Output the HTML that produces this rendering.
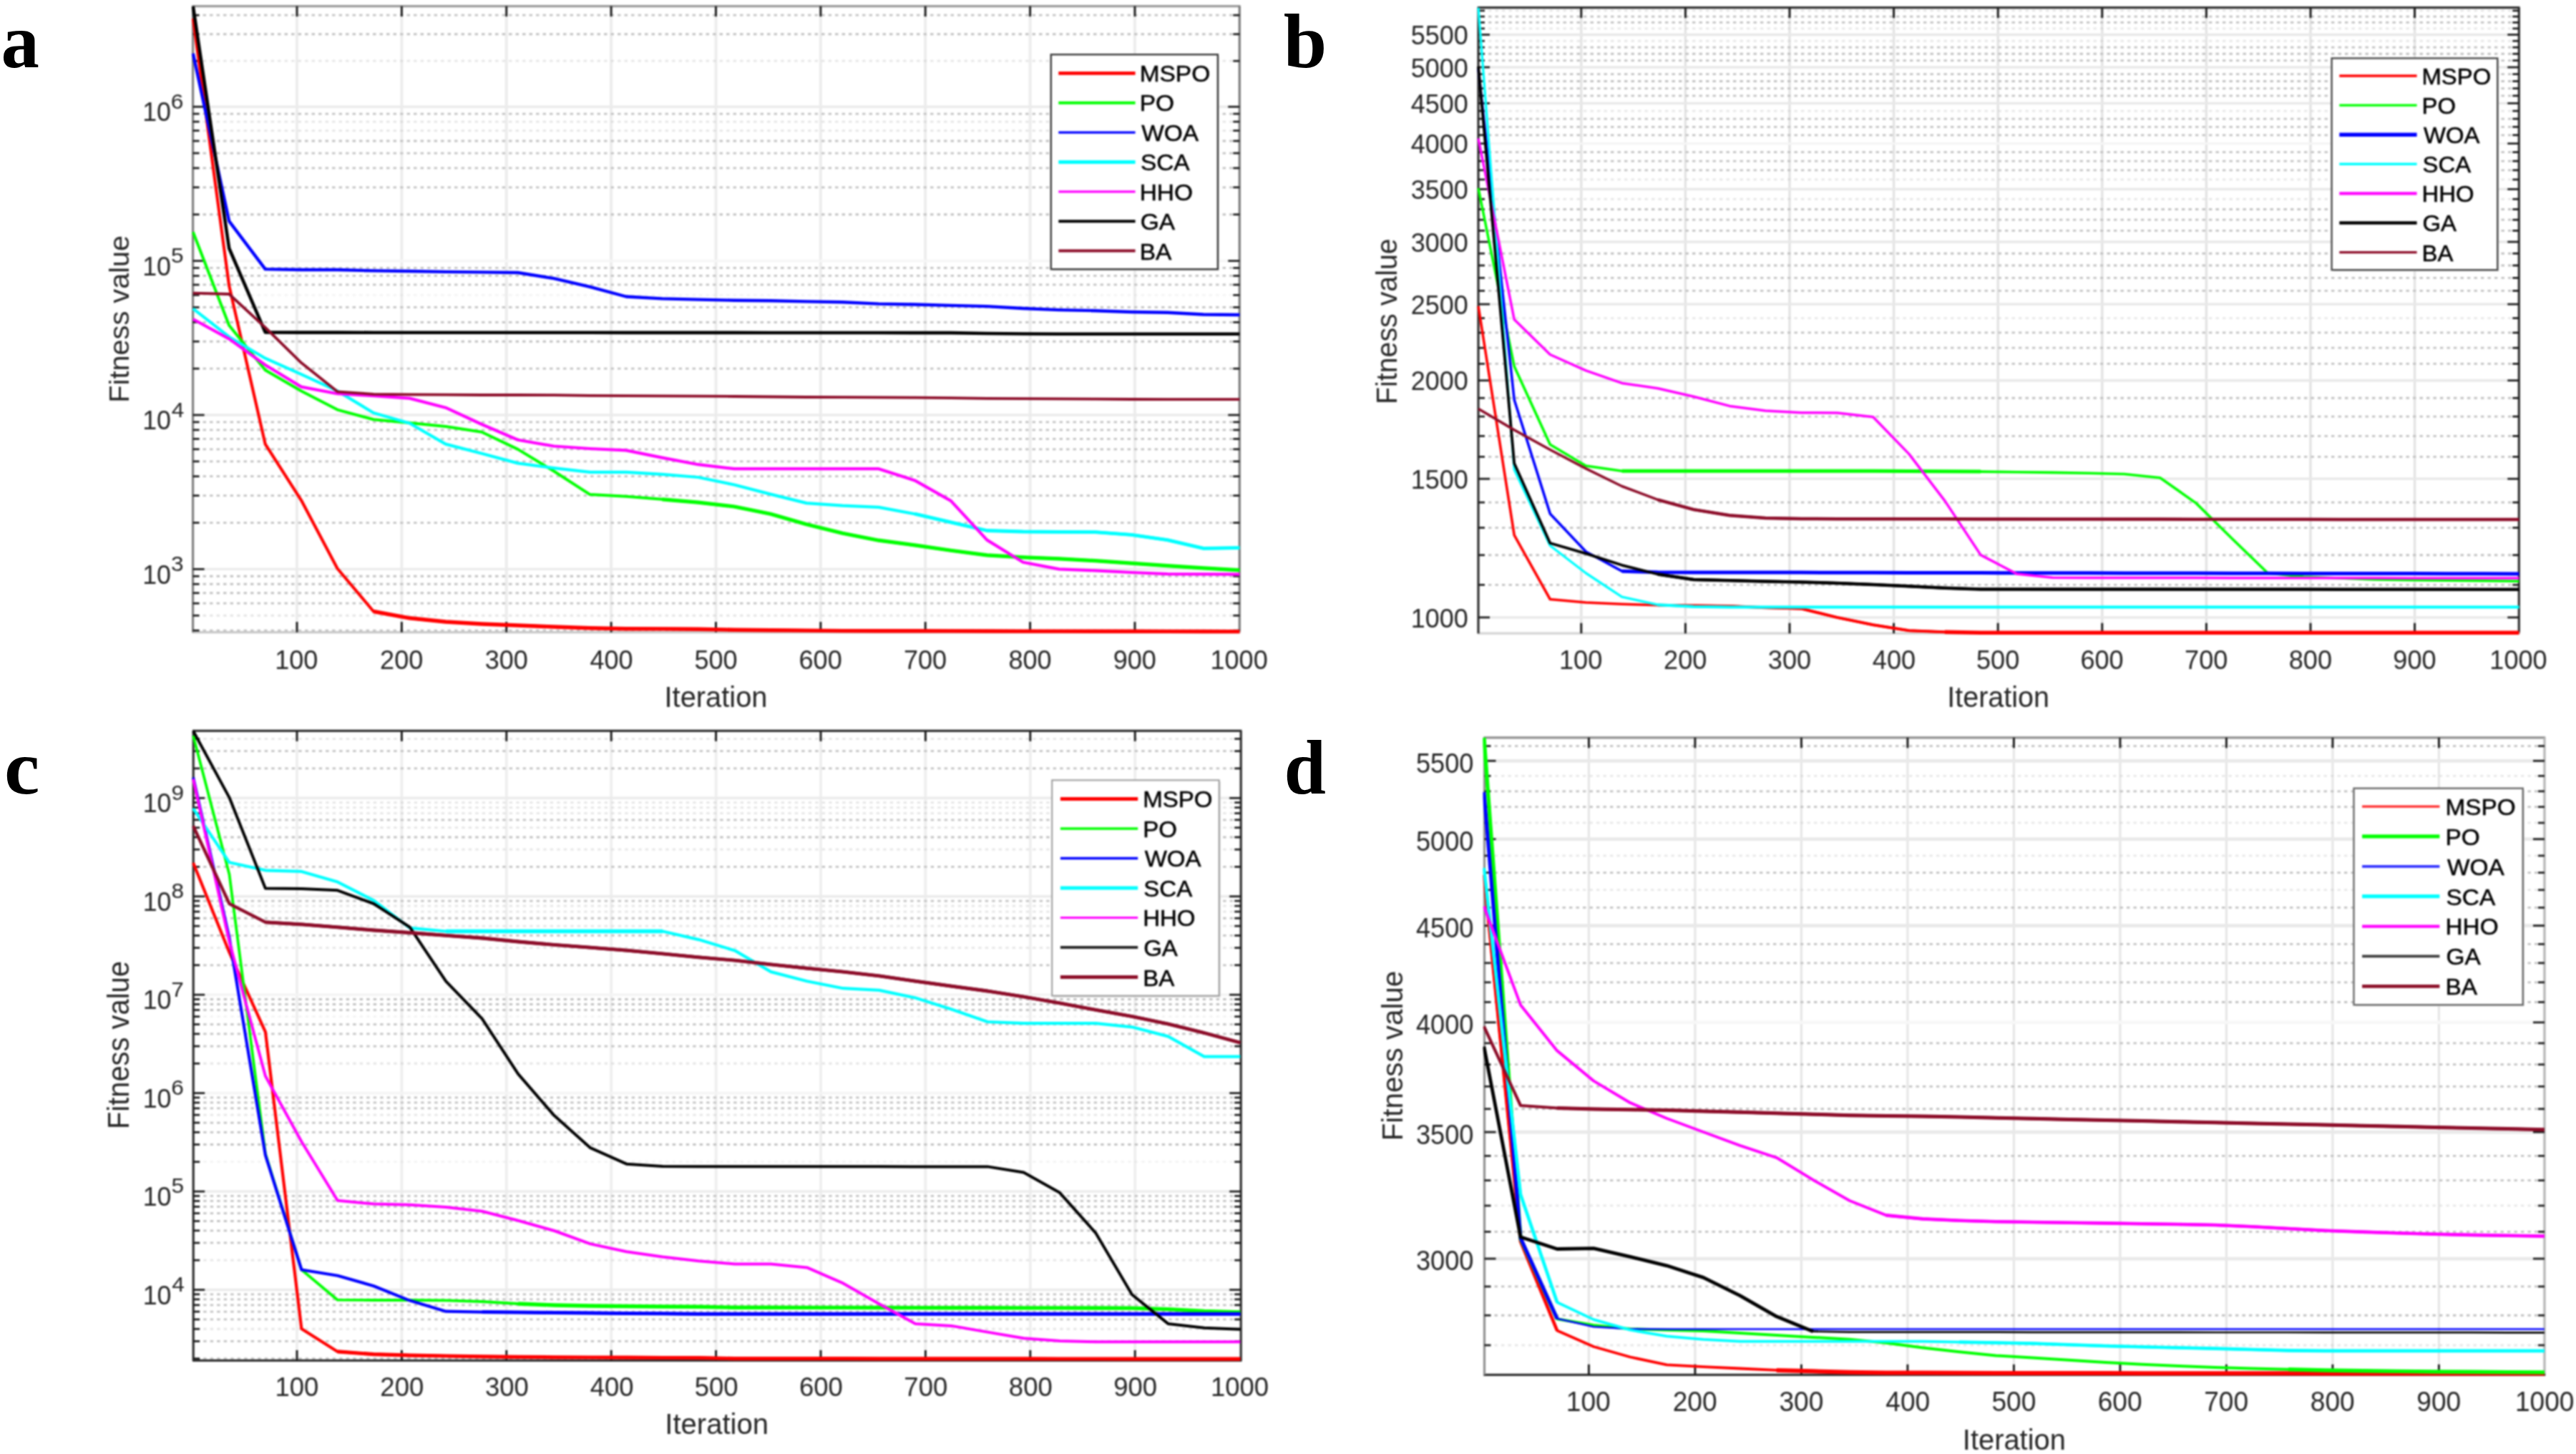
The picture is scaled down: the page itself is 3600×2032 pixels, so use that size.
<!DOCTYPE html>
<html><head><meta charset="utf-8"><title>Convergence curves</title>
<style>
html,body{margin:0;padding:0;background:#ffffff;}
body{width:3600px;height:2032px;overflow:hidden;position:relative;font-family:"Liberation Sans",sans-serif;}
svg{display:block;position:absolute;left:0;top:0;}
#plots{filter:blur(1px);}
text{white-space:pre;}
</style></head>
<body>
<svg id="plots" xmlns="http://www.w3.org/2000/svg" width="3600" height="2032" viewBox="0 0 3600 2032">
<rect width="3600" height="2032" fill="#ffffff"/>
<g>
<line x1="415.00" y1="8.60" x2="415.00" y2="883.60" stroke="#ececec" stroke-width="3.9" />
<line x1="561.37" y1="8.60" x2="561.37" y2="883.60" stroke="#ececec" stroke-width="3.9" />
<line x1="707.74" y1="8.60" x2="707.74" y2="883.60" stroke="#ececec" stroke-width="3.9" />
<line x1="854.11" y1="8.60" x2="854.11" y2="883.60" stroke="#ececec" stroke-width="3.9" />
<line x1="1000.48" y1="8.60" x2="1000.48" y2="883.60" stroke="#ececec" stroke-width="3.9" />
<line x1="1146.85" y1="8.60" x2="1146.85" y2="883.60" stroke="#ececec" stroke-width="3.9" />
<line x1="1293.22" y1="8.60" x2="1293.22" y2="883.60" stroke="#ececec" stroke-width="3.9" />
<line x1="1439.59" y1="8.60" x2="1439.59" y2="883.60" stroke="#ececec" stroke-width="3.9" />
<line x1="1585.96" y1="8.60" x2="1585.96" y2="883.60" stroke="#ececec" stroke-width="3.9" />
<line x1="269.60" y1="149.20" x2="1732.30" y2="149.20" stroke="#ebebeb" stroke-width="3.4" />
<line x1="269.60" y1="364.60" x2="1732.30" y2="364.60" stroke="#f6f6f6" stroke-width="3.4" />
<line x1="269.60" y1="580.00" x2="1732.30" y2="580.00" stroke="#ebebeb" stroke-width="3.4" />
<line x1="269.60" y1="795.40" x2="1732.30" y2="795.40" stroke="#ebebeb" stroke-width="3.4" />
<line x1="283.60" y1="881.12" x2="1732.30" y2="881.12" stroke="#c2c2c2" stroke-width="2.8" stroke-dasharray="4.4 5.1" opacity="1.0"/>
<line x1="283.60" y1="860.24" x2="1732.30" y2="860.24" stroke="#c2c2c2" stroke-width="2.8" stroke-dasharray="4.4 5.1" opacity="0.42"/>
<line x1="283.60" y1="843.19" x2="1732.30" y2="843.19" stroke="#c2c2c2" stroke-width="2.8" stroke-dasharray="4.4 5.1" opacity="1.0"/>
<line x1="283.60" y1="828.77" x2="1732.30" y2="828.77" stroke="#c2c2c2" stroke-width="2.8" stroke-dasharray="4.4 5.1" opacity="1.0"/>
<line x1="283.60" y1="816.27" x2="1732.30" y2="816.27" stroke="#c2c2c2" stroke-width="2.8" stroke-dasharray="4.4 5.1" opacity="1.0"/>
<line x1="283.60" y1="805.26" x2="1732.30" y2="805.26" stroke="#c2c2c2" stroke-width="2.8" stroke-dasharray="4.4 5.1" opacity="1.0"/>
<line x1="283.60" y1="730.56" x2="1732.30" y2="730.56" stroke="#c2c2c2" stroke-width="2.8" stroke-dasharray="4.4 5.1" opacity="1.0"/>
<line x1="283.60" y1="692.63" x2="1732.30" y2="692.63" stroke="#c2c2c2" stroke-width="2.8" stroke-dasharray="4.4 5.1" opacity="1.0"/>
<line x1="283.60" y1="665.72" x2="1732.30" y2="665.72" stroke="#c2c2c2" stroke-width="2.8" stroke-dasharray="4.4 5.1" opacity="1.0"/>
<line x1="283.60" y1="644.84" x2="1732.30" y2="644.84" stroke="#c2c2c2" stroke-width="2.8" stroke-dasharray="4.4 5.1" opacity="1.0"/>
<line x1="283.60" y1="627.79" x2="1732.30" y2="627.79" stroke="#c2c2c2" stroke-width="2.8" stroke-dasharray="4.4 5.1" opacity="1.0"/>
<line x1="283.60" y1="613.37" x2="1732.30" y2="613.37" stroke="#c2c2c2" stroke-width="2.8" stroke-dasharray="4.4 5.1" opacity="1.0"/>
<line x1="283.60" y1="600.87" x2="1732.30" y2="600.87" stroke="#c2c2c2" stroke-width="2.8" stroke-dasharray="4.4 5.1" opacity="1.0"/>
<line x1="283.60" y1="589.86" x2="1732.30" y2="589.86" stroke="#c2c2c2" stroke-width="2.8" stroke-dasharray="4.4 5.1" opacity="1.0"/>
<line x1="283.60" y1="515.16" x2="1732.30" y2="515.16" stroke="#c2c2c2" stroke-width="2.8" stroke-dasharray="4.4 5.1" opacity="1.0"/>
<line x1="283.60" y1="477.23" x2="1732.30" y2="477.23" stroke="#c2c2c2" stroke-width="2.8" stroke-dasharray="4.4 5.1" opacity="1.0"/>
<line x1="283.60" y1="450.32" x2="1732.30" y2="450.32" stroke="#c2c2c2" stroke-width="2.8" stroke-dasharray="4.4 5.1" opacity="1.0"/>
<line x1="283.60" y1="429.44" x2="1732.30" y2="429.44" stroke="#c2c2c2" stroke-width="2.8" stroke-dasharray="4.4 5.1" opacity="1.0"/>
<line x1="283.60" y1="412.39" x2="1732.30" y2="412.39" stroke="#c2c2c2" stroke-width="2.8" stroke-dasharray="4.4 5.1" opacity="0.18"/>
<line x1="283.60" y1="397.97" x2="1732.30" y2="397.97" stroke="#c2c2c2" stroke-width="2.8" stroke-dasharray="4.4 5.1" opacity="1.0"/>
<line x1="283.60" y1="385.47" x2="1732.30" y2="385.47" stroke="#c2c2c2" stroke-width="2.8" stroke-dasharray="4.4 5.1" opacity="1.0"/>
<line x1="283.60" y1="374.46" x2="1732.30" y2="374.46" stroke="#c2c2c2" stroke-width="2.8" stroke-dasharray="4.4 5.1" opacity="1.0"/>
<line x1="283.60" y1="299.76" x2="1732.30" y2="299.76" stroke="#c2c2c2" stroke-width="2.8" stroke-dasharray="4.4 5.1" opacity="1.0"/>
<line x1="283.60" y1="261.83" x2="1732.30" y2="261.83" stroke="#c2c2c2" stroke-width="2.8" stroke-dasharray="4.4 5.1" opacity="1.0"/>
<line x1="283.60" y1="234.92" x2="1732.30" y2="234.92" stroke="#c2c2c2" stroke-width="2.8" stroke-dasharray="4.4 5.1" opacity="1.0"/>
<line x1="283.60" y1="214.04" x2="1732.30" y2="214.04" stroke="#c2c2c2" stroke-width="2.8" stroke-dasharray="4.4 5.1" opacity="1.0"/>
<line x1="283.60" y1="196.99" x2="1732.30" y2="196.99" stroke="#c2c2c2" stroke-width="2.8" stroke-dasharray="4.4 5.1" opacity="1.0"/>
<line x1="283.60" y1="182.57" x2="1732.30" y2="182.57" stroke="#c2c2c2" stroke-width="2.8" stroke-dasharray="4.4 5.1" opacity="0.42"/>
<line x1="283.60" y1="170.07" x2="1732.30" y2="170.07" stroke="#c2c2c2" stroke-width="2.8" stroke-dasharray="4.4 5.1" opacity="0.42"/>
<line x1="283.60" y1="159.06" x2="1732.30" y2="159.06" stroke="#c2c2c2" stroke-width="2.8" stroke-dasharray="4.4 5.1" opacity="1.0"/>
<line x1="283.60" y1="85.20" x2="1732.30" y2="85.20" stroke="#c2c2c2" stroke-width="2.8" stroke-dasharray="4.4 5.1" opacity="0.42"/>
<line x1="283.60" y1="47.76" x2="1732.30" y2="47.76" stroke="#c2c2c2" stroke-width="2.8" stroke-dasharray="4.4 5.1" opacity="1.0"/>
<line x1="283.60" y1="21.20" x2="1732.30" y2="21.20" stroke="#c2c2c2" stroke-width="2.8" stroke-dasharray="4.4 5.1" opacity="1.0"/>
<line x1="268.40" y1="8.60" x2="1733.50" y2="8.60" stroke="#9a9a9a" stroke-width="3.2" />
<line x1="1732.30" y1="8.60" x2="1732.30" y2="883.60" stroke="#7a7a7a" stroke-width="3.2" />
<line x1="268.40" y1="883.60" x2="1733.50" y2="883.60" stroke="#c8c8c8" stroke-width="3.2" />
<line x1="269.60" y1="8.60" x2="269.60" y2="883.60" stroke="#808080" stroke-width="3.2" />
<line x1="415.00" y1="883.60" x2="415.00" y2="869.10" stroke="#1c1c1c" stroke-width="2.9" />
<line x1="415.00" y1="8.60" x2="415.00" y2="23.10" stroke="#1c1c1c" stroke-width="2.9" />
<line x1="561.37" y1="883.60" x2="561.37" y2="869.10" stroke="#1c1c1c" stroke-width="2.9" />
<line x1="561.37" y1="8.60" x2="561.37" y2="23.10" stroke="#1c1c1c" stroke-width="2.9" />
<line x1="707.74" y1="883.60" x2="707.74" y2="869.10" stroke="#1c1c1c" stroke-width="2.9" />
<line x1="707.74" y1="8.60" x2="707.74" y2="23.10" stroke="#1c1c1c" stroke-width="2.9" />
<line x1="854.11" y1="883.60" x2="854.11" y2="869.10" stroke="#1c1c1c" stroke-width="2.9" />
<line x1="854.11" y1="8.60" x2="854.11" y2="23.10" stroke="#1c1c1c" stroke-width="2.9" />
<line x1="1000.48" y1="883.60" x2="1000.48" y2="869.10" stroke="#1c1c1c" stroke-width="2.9" />
<line x1="1000.48" y1="8.60" x2="1000.48" y2="23.10" stroke="#1c1c1c" stroke-width="2.9" />
<line x1="1146.85" y1="883.60" x2="1146.85" y2="869.10" stroke="#1c1c1c" stroke-width="2.9" />
<line x1="1146.85" y1="8.60" x2="1146.85" y2="23.10" stroke="#1c1c1c" stroke-width="2.9" />
<line x1="1293.22" y1="883.60" x2="1293.22" y2="869.10" stroke="#1c1c1c" stroke-width="2.9" />
<line x1="1293.22" y1="8.60" x2="1293.22" y2="23.10" stroke="#1c1c1c" stroke-width="2.9" />
<line x1="1439.59" y1="883.60" x2="1439.59" y2="869.10" stroke="#1c1c1c" stroke-width="2.9" />
<line x1="1439.59" y1="8.60" x2="1439.59" y2="23.10" stroke="#1c1c1c" stroke-width="2.9" />
<line x1="1585.96" y1="883.60" x2="1585.96" y2="869.10" stroke="#1c1c1c" stroke-width="2.9" />
<line x1="1585.96" y1="8.60" x2="1585.96" y2="23.10" stroke="#1c1c1c" stroke-width="2.9" />
<line x1="269.60" y1="149.20" x2="285.60" y2="149.20" stroke="#1c1c1c" stroke-width="2.7" />
<line x1="1732.30" y1="149.20" x2="1716.30" y2="149.20" stroke="#1c1c1c" stroke-width="2.7" />
<line x1="269.60" y1="364.60" x2="285.60" y2="364.60" stroke="#1c1c1c" stroke-width="2.7" />
<line x1="1732.30" y1="364.60" x2="1716.30" y2="364.60" stroke="#1c1c1c" stroke-width="2.7" />
<line x1="269.60" y1="580.00" x2="285.60" y2="580.00" stroke="#1c1c1c" stroke-width="2.7" />
<line x1="1732.30" y1="580.00" x2="1716.30" y2="580.00" stroke="#1c1c1c" stroke-width="2.7" />
<line x1="269.60" y1="795.40" x2="285.60" y2="795.40" stroke="#1c1c1c" stroke-width="2.7" />
<line x1="1732.30" y1="795.40" x2="1716.30" y2="795.40" stroke="#1c1c1c" stroke-width="2.7" />
<line x1="269.60" y1="881.12" x2="278.60" y2="881.12" stroke="#1c1c1c" stroke-width="2.7" />
<line x1="1732.30" y1="881.12" x2="1723.30" y2="881.12" stroke="#1c1c1c" stroke-width="2.7" />
<line x1="269.60" y1="860.24" x2="278.60" y2="860.24" stroke="#1c1c1c" stroke-width="2.7" />
<line x1="1732.30" y1="860.24" x2="1723.30" y2="860.24" stroke="#1c1c1c" stroke-width="2.7" />
<line x1="269.60" y1="843.19" x2="278.60" y2="843.19" stroke="#1c1c1c" stroke-width="2.7" />
<line x1="1732.30" y1="843.19" x2="1723.30" y2="843.19" stroke="#1c1c1c" stroke-width="2.7" />
<line x1="269.60" y1="828.77" x2="278.60" y2="828.77" stroke="#1c1c1c" stroke-width="2.7" />
<line x1="1732.30" y1="828.77" x2="1723.30" y2="828.77" stroke="#1c1c1c" stroke-width="2.7" />
<line x1="269.60" y1="816.27" x2="278.60" y2="816.27" stroke="#1c1c1c" stroke-width="2.7" />
<line x1="1732.30" y1="816.27" x2="1723.30" y2="816.27" stroke="#1c1c1c" stroke-width="2.7" />
<line x1="269.60" y1="805.26" x2="278.60" y2="805.26" stroke="#1c1c1c" stroke-width="2.7" />
<line x1="1732.30" y1="805.26" x2="1723.30" y2="805.26" stroke="#1c1c1c" stroke-width="2.7" />
<line x1="269.60" y1="730.56" x2="278.60" y2="730.56" stroke="#1c1c1c" stroke-width="2.7" />
<line x1="1732.30" y1="730.56" x2="1723.30" y2="730.56" stroke="#1c1c1c" stroke-width="2.7" />
<line x1="269.60" y1="692.63" x2="278.60" y2="692.63" stroke="#1c1c1c" stroke-width="2.7" />
<line x1="1732.30" y1="692.63" x2="1723.30" y2="692.63" stroke="#1c1c1c" stroke-width="2.7" />
<line x1="269.60" y1="665.72" x2="278.60" y2="665.72" stroke="#1c1c1c" stroke-width="2.7" />
<line x1="1732.30" y1="665.72" x2="1723.30" y2="665.72" stroke="#1c1c1c" stroke-width="2.7" />
<line x1="269.60" y1="644.84" x2="278.60" y2="644.84" stroke="#1c1c1c" stroke-width="2.7" />
<line x1="1732.30" y1="644.84" x2="1723.30" y2="644.84" stroke="#1c1c1c" stroke-width="2.7" />
<line x1="269.60" y1="627.79" x2="278.60" y2="627.79" stroke="#1c1c1c" stroke-width="2.7" />
<line x1="1732.30" y1="627.79" x2="1723.30" y2="627.79" stroke="#1c1c1c" stroke-width="2.7" />
<line x1="269.60" y1="613.37" x2="278.60" y2="613.37" stroke="#1c1c1c" stroke-width="2.7" />
<line x1="1732.30" y1="613.37" x2="1723.30" y2="613.37" stroke="#1c1c1c" stroke-width="2.7" />
<line x1="269.60" y1="600.87" x2="278.60" y2="600.87" stroke="#1c1c1c" stroke-width="2.7" />
<line x1="1732.30" y1="600.87" x2="1723.30" y2="600.87" stroke="#1c1c1c" stroke-width="2.7" />
<line x1="269.60" y1="589.86" x2="278.60" y2="589.86" stroke="#1c1c1c" stroke-width="2.7" />
<line x1="1732.30" y1="589.86" x2="1723.30" y2="589.86" stroke="#1c1c1c" stroke-width="2.7" />
<line x1="269.60" y1="515.16" x2="278.60" y2="515.16" stroke="#1c1c1c" stroke-width="2.7" />
<line x1="1732.30" y1="515.16" x2="1723.30" y2="515.16" stroke="#1c1c1c" stroke-width="2.7" />
<line x1="269.60" y1="477.23" x2="278.60" y2="477.23" stroke="#1c1c1c" stroke-width="2.7" />
<line x1="1732.30" y1="477.23" x2="1723.30" y2="477.23" stroke="#1c1c1c" stroke-width="2.7" />
<line x1="269.60" y1="450.32" x2="278.60" y2="450.32" stroke="#1c1c1c" stroke-width="2.7" />
<line x1="1732.30" y1="450.32" x2="1723.30" y2="450.32" stroke="#1c1c1c" stroke-width="2.7" />
<line x1="269.60" y1="429.44" x2="278.60" y2="429.44" stroke="#1c1c1c" stroke-width="2.7" />
<line x1="1732.30" y1="429.44" x2="1723.30" y2="429.44" stroke="#1c1c1c" stroke-width="2.7" />
<line x1="269.60" y1="412.39" x2="278.60" y2="412.39" stroke="#1c1c1c" stroke-width="2.7" />
<line x1="1732.30" y1="412.39" x2="1723.30" y2="412.39" stroke="#1c1c1c" stroke-width="2.7" />
<line x1="269.60" y1="397.97" x2="278.60" y2="397.97" stroke="#1c1c1c" stroke-width="2.7" />
<line x1="1732.30" y1="397.97" x2="1723.30" y2="397.97" stroke="#1c1c1c" stroke-width="2.7" />
<line x1="269.60" y1="385.47" x2="278.60" y2="385.47" stroke="#1c1c1c" stroke-width="2.7" />
<line x1="1732.30" y1="385.47" x2="1723.30" y2="385.47" stroke="#1c1c1c" stroke-width="2.7" />
<line x1="269.60" y1="374.46" x2="278.60" y2="374.46" stroke="#1c1c1c" stroke-width="2.7" />
<line x1="1732.30" y1="374.46" x2="1723.30" y2="374.46" stroke="#1c1c1c" stroke-width="2.7" />
<line x1="269.60" y1="299.76" x2="278.60" y2="299.76" stroke="#1c1c1c" stroke-width="2.7" />
<line x1="1732.30" y1="299.76" x2="1723.30" y2="299.76" stroke="#1c1c1c" stroke-width="2.7" />
<line x1="269.60" y1="261.83" x2="278.60" y2="261.83" stroke="#1c1c1c" stroke-width="2.7" />
<line x1="1732.30" y1="261.83" x2="1723.30" y2="261.83" stroke="#1c1c1c" stroke-width="2.7" />
<line x1="269.60" y1="234.92" x2="278.60" y2="234.92" stroke="#1c1c1c" stroke-width="2.7" />
<line x1="1732.30" y1="234.92" x2="1723.30" y2="234.92" stroke="#1c1c1c" stroke-width="2.7" />
<line x1="269.60" y1="214.04" x2="278.60" y2="214.04" stroke="#1c1c1c" stroke-width="2.7" />
<line x1="1732.30" y1="214.04" x2="1723.30" y2="214.04" stroke="#1c1c1c" stroke-width="2.7" />
<line x1="269.60" y1="196.99" x2="278.60" y2="196.99" stroke="#1c1c1c" stroke-width="2.7" />
<line x1="1732.30" y1="196.99" x2="1723.30" y2="196.99" stroke="#1c1c1c" stroke-width="2.7" />
<line x1="269.60" y1="182.57" x2="278.60" y2="182.57" stroke="#1c1c1c" stroke-width="2.7" />
<line x1="1732.30" y1="182.57" x2="1723.30" y2="182.57" stroke="#1c1c1c" stroke-width="2.7" />
<line x1="269.60" y1="170.07" x2="278.60" y2="170.07" stroke="#1c1c1c" stroke-width="2.7" />
<line x1="1732.30" y1="170.07" x2="1723.30" y2="170.07" stroke="#1c1c1c" stroke-width="2.7" />
<line x1="269.60" y1="159.06" x2="278.60" y2="159.06" stroke="#1c1c1c" stroke-width="2.7" />
<line x1="1732.30" y1="159.06" x2="1723.30" y2="159.06" stroke="#1c1c1c" stroke-width="2.7" />
<line x1="269.60" y1="85.20" x2="278.60" y2="85.20" stroke="#1c1c1c" stroke-width="2.7" />
<line x1="1732.30" y1="85.20" x2="1723.30" y2="85.20" stroke="#1c1c1c" stroke-width="2.7" />
<line x1="269.60" y1="47.76" x2="278.60" y2="47.76" stroke="#1c1c1c" stroke-width="2.7" />
<line x1="1732.30" y1="47.76" x2="1723.30" y2="47.76" stroke="#1c1c1c" stroke-width="2.7" />
<line x1="269.60" y1="21.20" x2="278.60" y2="21.20" stroke="#1c1c1c" stroke-width="2.7" />
<line x1="1732.30" y1="21.20" x2="1723.30" y2="21.20" stroke="#1c1c1c" stroke-width="2.7" />
<clipPath id="cpa"><rect x="267.6" y="6.6" width="1466.6999999999998" height="880.0"/></clipPath>
<g clip-path="url(#cpa)" fill="none" stroke-linejoin="round">
<polyline points="269.8,25.7 320.2,399.4 370.7,620.6 421.1,699.3 471.5,794.5 522.0,854.5 572.4,863.8 622.8,869.0 673.2,872.0 723.7,874.0 774.1,876.0 824.5,877.8 875.0,878.7 925.4,878.9 975.8,879.2 1026.2,880.2 1076.7,880.7 1127.1,881.1 1177.5,881.6 1228.0,881.7 1278.4,881.8 1328.8,881.9 1379.3,882.0 1429.7,882.1 1480.1,882.1 1530.5,882.2 1581.0,882.3 1631.4,882.4 1681.8,882.5 1732.3,882.6" stroke="#ff0000" stroke-width="4.2"/>
<polyline points="522.0,854.5 572.4,863.8 622.8,869.0 673.2,872.0 723.7,874.0 774.1,876.0 824.5,877.8 875.0,878.7 925.4,878.9 975.8,879.2 1026.2,880.2 1076.7,880.7 1127.1,881.1 1177.5,881.6 1228.0,881.7 1278.4,881.8 1328.8,881.9 1379.3,882.0 1429.7,882.1 1480.1,882.1 1530.5,882.2 1581.0,882.3 1631.4,882.4 1681.8,882.5 1732.3,882.6" stroke="#ff0000" stroke-width="5.3999999999999995"/>
<polyline points="269.8,324.3 320.2,454.7 370.7,517.3 421.1,546.4 471.5,572.6 522.0,586.3 572.4,591.0 622.8,595.9 673.2,603.8 723.7,627.9 774.1,658.5 824.5,691.1 875.0,693.8 925.4,697.8 975.8,702.2 1026.2,708.0 1076.7,718.2 1127.1,732.8 1177.5,745.3 1228.0,755.2 1278.4,761.9 1328.8,769.2 1379.3,775.9 1429.7,778.8 1480.1,780.8 1530.5,783.7 1581.0,787.2 1631.4,790.7 1681.8,793.9 1732.3,796.8" stroke="#00ff00" stroke-width="4.0"/>
<polyline points="925.4,697.8 975.8,702.2 1026.2,708.0 1076.7,718.2 1127.1,732.8 1177.5,745.3 1228.0,755.2 1278.4,761.9 1328.8,769.2 1379.3,775.9 1429.7,778.8 1480.1,780.8 1530.5,783.7 1581.0,787.2 1631.4,790.7 1681.8,793.9 1732.3,796.8" stroke="#00ff00" stroke-width="5.2"/>
<polyline points="269.8,74.8 320.2,309.1 370.7,376.1 421.1,377.0 471.5,377.0 522.0,378.4 572.4,379.0 622.8,379.9 673.2,380.4 723.7,381.0 774.1,389.2 824.5,400.8 875.0,414.5 925.4,417.4 975.8,418.6 1026.2,419.7 1076.7,420.2 1127.1,421.4 1177.5,422.3 1228.0,424.6 1278.4,425.5 1328.8,426.9 1379.3,428.1 1429.7,431.0 1480.1,433.1 1530.5,434.2 1581.0,436.0 1631.4,436.8 1681.8,439.5 1732.3,440.0" stroke="#0000ff" stroke-width="4.4"/>
<polyline points="269.8,431.4 320.2,470.7 370.7,500.7 421.1,523.1 471.5,546.4 522.0,577.0 572.4,591.5 622.8,620.6 673.2,633.7 723.7,647.4 774.1,654.1 824.5,659.9 875.0,659.9 925.4,662.9 975.8,667.0 1026.2,677.5 1076.7,690.6 1127.1,703.1 1177.5,706.6 1228.0,708.9 1278.4,718.2 1328.8,729.9 1379.3,741.5 1429.7,743.0 1480.1,743.3 1530.5,743.6 1581.0,747.3 1631.4,754.6 1681.8,766.3 1732.3,765.7" stroke="#00ffff" stroke-width="4.2"/>
<polyline points="1278.4,718.2 1328.8,729.9 1379.3,741.5 1429.7,743.0 1480.1,743.3 1530.5,743.6 1581.0,747.3 1631.4,754.6 1681.8,766.3 1732.3,765.7" stroke="#00ffff" stroke-width="4.8"/>
<polyline points="269.8,446.0 320.2,473.6 370.7,510.0 421.1,540.6 471.5,550.2 522.0,553.1 572.4,556.6 622.8,569.7 673.2,593.0 723.7,614.8 774.1,623.5 824.5,627.0 875.0,629.4 925.4,639.6 975.8,649.2 1026.2,655.2 1076.7,655.2 1127.1,655.2 1177.5,655.2 1228.0,655.2 1278.4,671.4 1328.8,699.8 1379.3,754.6 1429.7,785.8 1480.1,795.4 1530.5,797.4 1581.0,800.0 1631.4,802.1 1681.8,802.4 1732.3,802.7" stroke="#ff00ff" stroke-width="4.2"/>
<polyline points="269.8,8.9 320.2,347.0 370.7,464.4 421.1,464.6 471.5,464.6 522.0,464.7 572.4,464.7 622.8,464.7 673.2,464.7 723.7,464.8 774.1,464.8 824.5,464.8 875.0,464.9 925.4,464.9 975.8,464.9 1026.2,464.9 1076.7,465.0 1127.1,465.0 1177.5,465.0 1228.0,465.0 1278.4,465.1 1328.8,465.1 1379.3,466.0 1429.7,466.5 1480.1,466.8 1530.5,466.8 1581.0,466.8 1631.4,466.8 1681.8,466.8 1732.3,466.8" stroke="#000000" stroke-width="4.6"/>
<polyline points="269.8,409.6 320.2,411.0 370.7,457.6 421.1,507.1 471.5,547.3 522.0,550.8 572.4,551.3 622.8,551.6 673.2,552.0 723.7,552.0 774.1,552.2 824.5,552.8 875.0,553.1 925.4,553.4 975.8,553.7 1026.2,554.0 1076.7,554.5 1127.1,555.0 1177.5,555.2 1228.0,555.4 1278.4,555.6 1328.8,556.2 1379.3,556.8 1429.7,557.1 1480.1,557.4 1530.5,557.7 1581.0,558.0 1631.4,558.1 1681.8,558.1 1732.3,558.2" stroke="#8c0c28" stroke-width="3.8"/>
</g>
<rect x="1470.8" y="78.2" width="233.10000000000014" height="300.0" fill="#d8d8d8"/>
<rect x="1468.8" y="76.2" width="233.10000000000014" height="300.0" fill="#ffffff" stroke="#3a3a3a" stroke-width="2.4"/>
<line x1="1479.30" y1="102.40" x2="1586.60" y2="102.40" stroke="#ff0000" stroke-width="4.6" />
<text transform="matrix(0.16714 0 0 0.15493 1592.73 114.09)" font-family="Liberation Sans" font-size="200" fill="#000000" stroke="#000000" stroke-width="3.29">MSPO</text>
<line x1="1479.30" y1="143.77" x2="1586.60" y2="143.77" stroke="#00ff00" stroke-width="4.0" />
<text transform="matrix(0.16714 0 0 0.15493 1592.73 155.46)" font-family="Liberation Sans" font-size="200" fill="#000000" stroke="#000000" stroke-width="3.29">PO</text>
<line x1="1479.30" y1="185.14" x2="1586.60" y2="185.14" stroke="#0000ff" stroke-width="3.4000000000000004" />
<text transform="matrix(0.16714 0 0 0.15493 1595.23 196.83)" font-family="Liberation Sans" font-size="200" fill="#000000" stroke="#000000" stroke-width="3.29">WOA</text>
<line x1="1479.30" y1="226.51" x2="1586.60" y2="226.51" stroke="#00ffff" stroke-width="5.2" />
<text transform="matrix(0.16714 0 0 0.15493 1593.90 238.20)" font-family="Liberation Sans" font-size="200" fill="#000000" stroke="#000000" stroke-width="3.29">SCA</text>
<line x1="1479.30" y1="267.88" x2="1586.60" y2="267.88" stroke="#ff00ff" stroke-width="3.4000000000000004" />
<text transform="matrix(0.16714 0 0 0.15493 1592.73 279.57)" font-family="Liberation Sans" font-size="200" fill="#000000" stroke="#000000" stroke-width="3.29">HHO</text>
<line x1="1479.30" y1="309.25" x2="1586.60" y2="309.25" stroke="#000000" stroke-width="4.2" />
<text transform="matrix(0.16714 0 0 0.15493 1593.73 320.94)" font-family="Liberation Sans" font-size="200" fill="#000000" stroke="#000000" stroke-width="3.29">GA</text>
<line x1="1479.30" y1="350.62" x2="1586.60" y2="350.62" stroke="#8c0c28" stroke-width="4.0" />
<text transform="matrix(0.16714 0 0 0.15493 1592.73 362.62)" font-family="Liberation Sans" font-size="200" fill="#000000" stroke="#000000" stroke-width="3.29">BA</text>
<text transform="matrix(0.18019 0 0 0.18099 384.28 934.84)" font-family="Liberation Sans" font-size="200" fill="#262626">100</text>
<text transform="matrix(0.18019 0 0 0.18099 531.10 934.84)" font-family="Liberation Sans" font-size="200" fill="#262626">200</text>
<text transform="matrix(0.18019 0 0 0.18099 677.65 934.84)" font-family="Liberation Sans" font-size="200" fill="#262626">300</text>
<text transform="matrix(0.18019 0 0 0.18099 824.38 934.84)" font-family="Liberation Sans" font-size="200" fill="#262626">400</text>
<text transform="matrix(0.18019 0 0 0.18099 970.39 934.84)" font-family="Liberation Sans" font-size="200" fill="#262626">500</text>
<text transform="matrix(0.18019 0 0 0.18099 1116.58 934.84)" font-family="Liberation Sans" font-size="200" fill="#262626">600</text>
<text transform="matrix(0.18019 0 0 0.18099 1262.95 934.84)" font-family="Liberation Sans" font-size="200" fill="#262626">700</text>
<text transform="matrix(0.18019 0 0 0.18099 1409.41 934.84)" font-family="Liberation Sans" font-size="200" fill="#262626">800</text>
<text transform="matrix(0.18019 0 0 0.18099 1555.78 934.84)" font-family="Liberation Sans" font-size="200" fill="#262626">900</text>
<text transform="matrix(0.18019 0 0 0.18099 1691.52 934.84)" font-family="Liberation Sans" font-size="200" fill="#262626">1000</text>
<text transform="matrix(0.19928 0 0 0.20340 928.51 987.99)" font-family="Liberation Sans" font-size="200" fill="#262626">Iteration</text>
<text transform="matrix(0 -0.19853 0.19456 0 180.21 562.68)" font-family="Liberation Sans" font-size="200" fill="#262626">Fitness value</text>
<text transform="matrix(0.17900 0 0 0.18732 199.22 169.33)" font-family="Liberation Sans" font-size="200" fill="#262626">10</text>
<text transform="matrix(0.15789 0 0 0.15000 238.72 151.50)" font-family="Liberation Sans" font-size="200" fill="#262626">6</text>
<text transform="matrix(0.17900 0 0 0.18732 199.22 384.73)" font-family="Liberation Sans" font-size="200" fill="#262626">10</text>
<text transform="matrix(0.15789 0 0 0.15000 239.04 366.90)" font-family="Liberation Sans" font-size="200" fill="#262626">5</text>
<text transform="matrix(0.17900 0 0 0.18732 199.22 600.13)" font-family="Liberation Sans" font-size="200" fill="#262626">10</text>
<text transform="matrix(0.15789 0 0 0.15000 239.67 582.60)" font-family="Liberation Sans" font-size="200" fill="#262626">4</text>
<text transform="matrix(0.17900 0 0 0.18732 199.22 815.53)" font-family="Liberation Sans" font-size="200" fill="#262626">10</text>
<text transform="matrix(0.15789 0 0 0.15000 239.04 797.70)" font-family="Liberation Sans" font-size="200" fill="#262626">3</text>
</g>
<g>
<line x1="2209.80" y1="10.60" x2="2209.80" y2="885.20" stroke="#e3e3e3" stroke-width="3.4" />
<line x1="2355.40" y1="10.60" x2="2355.40" y2="885.20" stroke="#e3e3e3" stroke-width="3.4" />
<line x1="2501.00" y1="10.60" x2="2501.00" y2="885.20" stroke="#e3e3e3" stroke-width="3.4" />
<line x1="2646.60" y1="10.60" x2="2646.60" y2="885.20" stroke="#e3e3e3" stroke-width="3.4" />
<line x1="2792.20" y1="10.60" x2="2792.20" y2="885.20" stroke="#e3e3e3" stroke-width="3.4" />
<line x1="2937.80" y1="10.60" x2="2937.80" y2="885.20" stroke="#e3e3e3" stroke-width="3.4" />
<line x1="3083.40" y1="10.60" x2="3083.40" y2="885.20" stroke="#e3e3e3" stroke-width="3.4" />
<line x1="3229.00" y1="10.60" x2="3229.00" y2="885.20" stroke="#e3e3e3" stroke-width="3.4" />
<line x1="3374.60" y1="10.60" x2="3374.60" y2="885.20" stroke="#e3e3e3" stroke-width="3.4" />
<line x1="2066.00" y1="48.47" x2="3520.30" y2="48.47" stroke="#e8e8e8" stroke-width="3.4" />
<line x1="2066.00" y1="94.00" x2="3520.30" y2="94.00" stroke="#e8e8e8" stroke-width="3.4" />
<line x1="2066.00" y1="144.33" x2="3520.30" y2="144.33" stroke="#e8e8e8" stroke-width="3.4" />
<line x1="2066.00" y1="200.60" x2="3520.30" y2="200.60" stroke="#f5f5f5" stroke-width="3.4" />
<line x1="2066.00" y1="264.39" x2="3520.30" y2="264.39" stroke="#e8e8e8" stroke-width="3.4" />
<line x1="2066.00" y1="338.03" x2="3520.30" y2="338.03" stroke="#e8e8e8" stroke-width="3.4" />
<line x1="2066.00" y1="425.13" x2="3520.30" y2="425.13" stroke="#e8e8e8" stroke-width="3.4" />
<line x1="2066.00" y1="531.73" x2="3520.30" y2="531.73" stroke="#e8e8e8" stroke-width="3.4" />
<line x1="2066.00" y1="669.17" x2="3520.30" y2="669.17" stroke="#e8e8e8" stroke-width="3.4" />
<line x1="2066.00" y1="862.87" x2="3520.30" y2="862.87" stroke="#e8e8e8" stroke-width="3.4" />
<line x1="2080.00" y1="817.34" x2="3520.30" y2="817.34" stroke="#c2c2c2" stroke-width="2.8" stroke-dasharray="4.4 5.1" opacity="1.0"/>
<line x1="2080.00" y1="775.77" x2="3520.30" y2="775.77" stroke="#c2c2c2" stroke-width="2.8" stroke-dasharray="4.4 5.1" opacity="1.0"/>
<line x1="2080.00" y1="737.53" x2="3520.30" y2="737.53" stroke="#c2c2c2" stroke-width="2.8" stroke-dasharray="4.4 5.1" opacity="1.0"/>
<line x1="2080.00" y1="702.13" x2="3520.30" y2="702.13" stroke="#c2c2c2" stroke-width="2.8" stroke-dasharray="4.4 5.1" opacity="1.0"/>
<line x1="2080.00" y1="638.34" x2="3520.30" y2="638.34" stroke="#c2c2c2" stroke-width="2.8" stroke-dasharray="4.4 5.1" opacity="1.0"/>
<line x1="2080.00" y1="609.37" x2="3520.30" y2="609.37" stroke="#c2c2c2" stroke-width="2.8" stroke-dasharray="4.4 5.1" opacity="1.0"/>
<line x1="2080.00" y1="582.07" x2="3520.30" y2="582.07" stroke="#c2c2c2" stroke-width="2.8" stroke-dasharray="4.4 5.1" opacity="1.0"/>
<line x1="2080.00" y1="556.24" x2="3520.30" y2="556.24" stroke="#c2c2c2" stroke-width="2.8" stroke-dasharray="4.4 5.1" opacity="1.0"/>
<line x1="2080.00" y1="508.43" x2="3520.30" y2="508.43" stroke="#c2c2c2" stroke-width="2.8" stroke-dasharray="4.4 5.1" opacity="1.0"/>
<line x1="2080.00" y1="486.20" x2="3520.30" y2="486.20" stroke="#c2c2c2" stroke-width="2.8" stroke-dasharray="4.4 5.1" opacity="1.0"/>
<line x1="2080.00" y1="464.97" x2="3520.30" y2="464.97" stroke="#c2c2c2" stroke-width="2.8" stroke-dasharray="4.4 5.1" opacity="1.0"/>
<line x1="2080.00" y1="444.63" x2="3520.30" y2="444.63" stroke="#c2c2c2" stroke-width="2.8" stroke-dasharray="4.4 5.1" opacity="0.38"/>
<line x1="2080.00" y1="406.40" x2="3520.30" y2="406.40" stroke="#c2c2c2" stroke-width="2.8" stroke-dasharray="4.4 5.1" opacity="1.0"/>
<line x1="2080.00" y1="388.37" x2="3520.30" y2="388.37" stroke="#c2c2c2" stroke-width="2.8" stroke-dasharray="4.4 5.1" opacity="1.0"/>
<line x1="2080.00" y1="370.99" x2="3520.30" y2="370.99" stroke="#c2c2c2" stroke-width="2.8" stroke-dasharray="4.4 5.1" opacity="1.0"/>
<line x1="2080.00" y1="354.23" x2="3520.30" y2="354.23" stroke="#c2c2c2" stroke-width="2.8" stroke-dasharray="4.4 5.1" opacity="1.0"/>
<line x1="2080.00" y1="322.37" x2="3520.30" y2="322.37" stroke="#c2c2c2" stroke-width="2.8" stroke-dasharray="4.4 5.1" opacity="1.0"/>
<line x1="2080.00" y1="307.20" x2="3520.30" y2="307.20" stroke="#c2c2c2" stroke-width="2.8" stroke-dasharray="4.4 5.1" opacity="1.0"/>
<line x1="2080.00" y1="292.50" x2="3520.30" y2="292.50" stroke="#c2c2c2" stroke-width="2.8" stroke-dasharray="4.4 5.1" opacity="1.0"/>
<line x1="2080.00" y1="278.24" x2="3520.30" y2="278.24" stroke="#c2c2c2" stroke-width="2.8" stroke-dasharray="4.4 5.1" opacity="0.38"/>
<line x1="2080.00" y1="250.93" x2="3520.30" y2="250.93" stroke="#c2c2c2" stroke-width="2.8" stroke-dasharray="4.4 5.1" opacity="0.38"/>
<line x1="2080.00" y1="237.85" x2="3520.30" y2="237.85" stroke="#c2c2c2" stroke-width="2.8" stroke-dasharray="4.4 5.1" opacity="1.0"/>
<line x1="2080.00" y1="225.11" x2="3520.30" y2="225.11" stroke="#c2c2c2" stroke-width="2.8" stroke-dasharray="4.4 5.1" opacity="1.0"/>
<line x1="2080.00" y1="212.70" x2="3520.30" y2="212.70" stroke="#c2c2c2" stroke-width="2.8" stroke-dasharray="4.4 5.1" opacity="1.0"/>
<line x1="2080.00" y1="188.80" x2="3520.30" y2="188.80" stroke="#c2c2c2" stroke-width="2.8" stroke-dasharray="4.4 5.1" opacity="1.0"/>
<line x1="2080.00" y1="177.29" x2="3520.30" y2="177.29" stroke="#c2c2c2" stroke-width="2.8" stroke-dasharray="4.4 5.1" opacity="1.0"/>
<line x1="2080.00" y1="166.05" x2="3520.30" y2="166.05" stroke="#c2c2c2" stroke-width="2.8" stroke-dasharray="4.4 5.1" opacity="1.0"/>
<line x1="2080.00" y1="155.07" x2="3520.30" y2="155.07" stroke="#c2c2c2" stroke-width="2.8" stroke-dasharray="4.4 5.1" opacity="0.38"/>
<line x1="2080.00" y1="133.83" x2="3520.30" y2="133.83" stroke="#c2c2c2" stroke-width="2.8" stroke-dasharray="4.4 5.1" opacity="1.0"/>
<line x1="2080.00" y1="123.56" x2="3520.30" y2="123.56" stroke="#c2c2c2" stroke-width="2.8" stroke-dasharray="4.4 5.1" opacity="1.0"/>
<line x1="2080.00" y1="113.50" x2="3520.30" y2="113.50" stroke="#c2c2c2" stroke-width="2.8" stroke-dasharray="4.4 5.1" opacity="1.0"/>
<line x1="2080.00" y1="103.65" x2="3520.30" y2="103.65" stroke="#c2c2c2" stroke-width="2.8" stroke-dasharray="4.4 5.1" opacity="1.0"/>
<line x1="2080.00" y1="84.54" x2="3520.30" y2="84.54" stroke="#c2c2c2" stroke-width="2.8" stroke-dasharray="4.4 5.1" opacity="1.0"/>
<line x1="2080.00" y1="75.26" x2="3520.30" y2="75.26" stroke="#c2c2c2" stroke-width="2.8" stroke-dasharray="4.4 5.1" opacity="1.0"/>
<line x1="2080.00" y1="66.16" x2="3520.30" y2="66.16" stroke="#c2c2c2" stroke-width="2.8" stroke-dasharray="4.4 5.1" opacity="1.0"/>
<line x1="2080.00" y1="57.23" x2="3520.30" y2="57.23" stroke="#c2c2c2" stroke-width="2.8" stroke-dasharray="4.4 5.1" opacity="0.38"/>
<line x1="2080.00" y1="39.86" x2="3520.30" y2="39.86" stroke="#c2c2c2" stroke-width="2.8" stroke-dasharray="4.4 5.1" opacity="0.38"/>
<line x1="2080.00" y1="31.40" x2="3520.30" y2="31.40" stroke="#c2c2c2" stroke-width="2.8" stroke-dasharray="4.4 5.1" opacity="1.0"/>
<line x1="2080.00" y1="23.10" x2="3520.30" y2="23.10" stroke="#c2c2c2" stroke-width="2.8" stroke-dasharray="4.4 5.1" opacity="1.0"/>
<line x1="2080.00" y1="14.93" x2="3520.30" y2="14.93" stroke="#c2c2c2" stroke-width="2.8" stroke-dasharray="4.4 5.1" opacity="0.38"/>
<line x1="2064.80" y1="10.60" x2="3521.50" y2="10.60" stroke="#303030" stroke-width="3.2" />
<line x1="3520.30" y1="10.60" x2="3520.30" y2="885.20" stroke="#303030" stroke-width="3.2" />
<line x1="2064.80" y1="885.20" x2="3521.50" y2="885.20" stroke="#d4d4d4" stroke-width="3.2" />
<line x1="2066.00" y1="10.60" x2="2066.00" y2="885.20" stroke="#303030" stroke-width="3.2" />
<line x1="2209.80" y1="885.20" x2="2209.80" y2="870.70" stroke="#1c1c1c" stroke-width="2.9" />
<line x1="2209.80" y1="10.60" x2="2209.80" y2="25.10" stroke="#1c1c1c" stroke-width="2.9" />
<line x1="2355.40" y1="885.20" x2="2355.40" y2="870.70" stroke="#1c1c1c" stroke-width="2.9" />
<line x1="2355.40" y1="10.60" x2="2355.40" y2="25.10" stroke="#1c1c1c" stroke-width="2.9" />
<line x1="2501.00" y1="885.20" x2="2501.00" y2="870.70" stroke="#1c1c1c" stroke-width="2.9" />
<line x1="2501.00" y1="10.60" x2="2501.00" y2="25.10" stroke="#1c1c1c" stroke-width="2.9" />
<line x1="2646.60" y1="885.20" x2="2646.60" y2="870.70" stroke="#1c1c1c" stroke-width="2.9" />
<line x1="2646.60" y1="10.60" x2="2646.60" y2="25.10" stroke="#1c1c1c" stroke-width="2.9" />
<line x1="2792.20" y1="885.20" x2="2792.20" y2="870.70" stroke="#1c1c1c" stroke-width="2.9" />
<line x1="2792.20" y1="10.60" x2="2792.20" y2="25.10" stroke="#1c1c1c" stroke-width="2.9" />
<line x1="2937.80" y1="885.20" x2="2937.80" y2="870.70" stroke="#1c1c1c" stroke-width="2.9" />
<line x1="2937.80" y1="10.60" x2="2937.80" y2="25.10" stroke="#1c1c1c" stroke-width="2.9" />
<line x1="3083.40" y1="885.20" x2="3083.40" y2="870.70" stroke="#1c1c1c" stroke-width="2.9" />
<line x1="3083.40" y1="10.60" x2="3083.40" y2="25.10" stroke="#1c1c1c" stroke-width="2.9" />
<line x1="3229.00" y1="885.20" x2="3229.00" y2="870.70" stroke="#1c1c1c" stroke-width="2.9" />
<line x1="3229.00" y1="10.60" x2="3229.00" y2="25.10" stroke="#1c1c1c" stroke-width="2.9" />
<line x1="3374.60" y1="885.20" x2="3374.60" y2="870.70" stroke="#1c1c1c" stroke-width="2.9" />
<line x1="3374.60" y1="10.60" x2="3374.60" y2="25.10" stroke="#1c1c1c" stroke-width="2.9" />
<line x1="2066.00" y1="48.47" x2="2082.00" y2="48.47" stroke="#1c1c1c" stroke-width="2.7" />
<line x1="3520.30" y1="48.47" x2="3504.30" y2="48.47" stroke="#1c1c1c" stroke-width="2.7" />
<line x1="2066.00" y1="94.00" x2="2082.00" y2="94.00" stroke="#1c1c1c" stroke-width="2.7" />
<line x1="3520.30" y1="94.00" x2="3504.30" y2="94.00" stroke="#1c1c1c" stroke-width="2.7" />
<line x1="2066.00" y1="144.33" x2="2082.00" y2="144.33" stroke="#1c1c1c" stroke-width="2.7" />
<line x1="3520.30" y1="144.33" x2="3504.30" y2="144.33" stroke="#1c1c1c" stroke-width="2.7" />
<line x1="2066.00" y1="200.60" x2="2082.00" y2="200.60" stroke="#1c1c1c" stroke-width="2.7" />
<line x1="3520.30" y1="200.60" x2="3504.30" y2="200.60" stroke="#1c1c1c" stroke-width="2.7" />
<line x1="2066.00" y1="264.39" x2="2082.00" y2="264.39" stroke="#1c1c1c" stroke-width="2.7" />
<line x1="3520.30" y1="264.39" x2="3504.30" y2="264.39" stroke="#1c1c1c" stroke-width="2.7" />
<line x1="2066.00" y1="338.03" x2="2082.00" y2="338.03" stroke="#1c1c1c" stroke-width="2.7" />
<line x1="3520.30" y1="338.03" x2="3504.30" y2="338.03" stroke="#1c1c1c" stroke-width="2.7" />
<line x1="2066.00" y1="425.13" x2="2082.00" y2="425.13" stroke="#1c1c1c" stroke-width="2.7" />
<line x1="3520.30" y1="425.13" x2="3504.30" y2="425.13" stroke="#1c1c1c" stroke-width="2.7" />
<line x1="2066.00" y1="531.73" x2="2082.00" y2="531.73" stroke="#1c1c1c" stroke-width="2.7" />
<line x1="3520.30" y1="531.73" x2="3504.30" y2="531.73" stroke="#1c1c1c" stroke-width="2.7" />
<line x1="2066.00" y1="669.17" x2="2082.00" y2="669.17" stroke="#1c1c1c" stroke-width="2.7" />
<line x1="3520.30" y1="669.17" x2="3504.30" y2="669.17" stroke="#1c1c1c" stroke-width="2.7" />
<line x1="2066.00" y1="862.87" x2="2082.00" y2="862.87" stroke="#1c1c1c" stroke-width="2.7" />
<line x1="3520.30" y1="862.87" x2="3504.30" y2="862.87" stroke="#1c1c1c" stroke-width="2.7" />
<line x1="2066.00" y1="817.34" x2="2075.00" y2="817.34" stroke="#1c1c1c" stroke-width="2.7" />
<line x1="3520.30" y1="817.34" x2="3511.30" y2="817.34" stroke="#1c1c1c" stroke-width="2.7" />
<line x1="2066.00" y1="775.77" x2="2075.00" y2="775.77" stroke="#1c1c1c" stroke-width="2.7" />
<line x1="3520.30" y1="775.77" x2="3511.30" y2="775.77" stroke="#1c1c1c" stroke-width="2.7" />
<line x1="2066.00" y1="737.53" x2="2075.00" y2="737.53" stroke="#1c1c1c" stroke-width="2.7" />
<line x1="3520.30" y1="737.53" x2="3511.30" y2="737.53" stroke="#1c1c1c" stroke-width="2.7" />
<line x1="2066.00" y1="702.13" x2="2075.00" y2="702.13" stroke="#1c1c1c" stroke-width="2.7" />
<line x1="3520.30" y1="702.13" x2="3511.30" y2="702.13" stroke="#1c1c1c" stroke-width="2.7" />
<line x1="2066.00" y1="638.34" x2="2075.00" y2="638.34" stroke="#1c1c1c" stroke-width="2.7" />
<line x1="3520.30" y1="638.34" x2="3511.30" y2="638.34" stroke="#1c1c1c" stroke-width="2.7" />
<line x1="2066.00" y1="609.37" x2="2075.00" y2="609.37" stroke="#1c1c1c" stroke-width="2.7" />
<line x1="3520.30" y1="609.37" x2="3511.30" y2="609.37" stroke="#1c1c1c" stroke-width="2.7" />
<line x1="2066.00" y1="582.07" x2="2075.00" y2="582.07" stroke="#1c1c1c" stroke-width="2.7" />
<line x1="3520.30" y1="582.07" x2="3511.30" y2="582.07" stroke="#1c1c1c" stroke-width="2.7" />
<line x1="2066.00" y1="556.24" x2="2075.00" y2="556.24" stroke="#1c1c1c" stroke-width="2.7" />
<line x1="3520.30" y1="556.24" x2="3511.30" y2="556.24" stroke="#1c1c1c" stroke-width="2.7" />
<line x1="2066.00" y1="508.43" x2="2075.00" y2="508.43" stroke="#1c1c1c" stroke-width="2.7" />
<line x1="3520.30" y1="508.43" x2="3511.30" y2="508.43" stroke="#1c1c1c" stroke-width="2.7" />
<line x1="2066.00" y1="486.20" x2="2075.00" y2="486.20" stroke="#1c1c1c" stroke-width="2.7" />
<line x1="3520.30" y1="486.20" x2="3511.30" y2="486.20" stroke="#1c1c1c" stroke-width="2.7" />
<line x1="2066.00" y1="464.97" x2="2075.00" y2="464.97" stroke="#1c1c1c" stroke-width="2.7" />
<line x1="3520.30" y1="464.97" x2="3511.30" y2="464.97" stroke="#1c1c1c" stroke-width="2.7" />
<line x1="2066.00" y1="444.63" x2="2075.00" y2="444.63" stroke="#1c1c1c" stroke-width="2.7" />
<line x1="3520.30" y1="444.63" x2="3511.30" y2="444.63" stroke="#1c1c1c" stroke-width="2.7" />
<line x1="2066.00" y1="406.40" x2="2075.00" y2="406.40" stroke="#1c1c1c" stroke-width="2.7" />
<line x1="3520.30" y1="406.40" x2="3511.30" y2="406.40" stroke="#1c1c1c" stroke-width="2.7" />
<line x1="2066.00" y1="388.37" x2="2075.00" y2="388.37" stroke="#1c1c1c" stroke-width="2.7" />
<line x1="3520.30" y1="388.37" x2="3511.30" y2="388.37" stroke="#1c1c1c" stroke-width="2.7" />
<line x1="2066.00" y1="370.99" x2="2075.00" y2="370.99" stroke="#1c1c1c" stroke-width="2.7" />
<line x1="3520.30" y1="370.99" x2="3511.30" y2="370.99" stroke="#1c1c1c" stroke-width="2.7" />
<line x1="2066.00" y1="354.23" x2="2075.00" y2="354.23" stroke="#1c1c1c" stroke-width="2.7" />
<line x1="3520.30" y1="354.23" x2="3511.30" y2="354.23" stroke="#1c1c1c" stroke-width="2.7" />
<line x1="2066.00" y1="322.37" x2="2075.00" y2="322.37" stroke="#1c1c1c" stroke-width="2.7" />
<line x1="3520.30" y1="322.37" x2="3511.30" y2="322.37" stroke="#1c1c1c" stroke-width="2.7" />
<line x1="2066.00" y1="307.20" x2="2075.00" y2="307.20" stroke="#1c1c1c" stroke-width="2.7" />
<line x1="3520.30" y1="307.20" x2="3511.30" y2="307.20" stroke="#1c1c1c" stroke-width="2.7" />
<line x1="2066.00" y1="292.50" x2="2075.00" y2="292.50" stroke="#1c1c1c" stroke-width="2.7" />
<line x1="3520.30" y1="292.50" x2="3511.30" y2="292.50" stroke="#1c1c1c" stroke-width="2.7" />
<line x1="2066.00" y1="278.24" x2="2075.00" y2="278.24" stroke="#1c1c1c" stroke-width="2.7" />
<line x1="3520.30" y1="278.24" x2="3511.30" y2="278.24" stroke="#1c1c1c" stroke-width="2.7" />
<line x1="2066.00" y1="250.93" x2="2075.00" y2="250.93" stroke="#1c1c1c" stroke-width="2.7" />
<line x1="3520.30" y1="250.93" x2="3511.30" y2="250.93" stroke="#1c1c1c" stroke-width="2.7" />
<line x1="2066.00" y1="237.85" x2="2075.00" y2="237.85" stroke="#1c1c1c" stroke-width="2.7" />
<line x1="3520.30" y1="237.85" x2="3511.30" y2="237.85" stroke="#1c1c1c" stroke-width="2.7" />
<line x1="2066.00" y1="225.11" x2="2075.00" y2="225.11" stroke="#1c1c1c" stroke-width="2.7" />
<line x1="3520.30" y1="225.11" x2="3511.30" y2="225.11" stroke="#1c1c1c" stroke-width="2.7" />
<line x1="2066.00" y1="212.70" x2="2075.00" y2="212.70" stroke="#1c1c1c" stroke-width="2.7" />
<line x1="3520.30" y1="212.70" x2="3511.30" y2="212.70" stroke="#1c1c1c" stroke-width="2.7" />
<line x1="2066.00" y1="188.80" x2="2075.00" y2="188.80" stroke="#1c1c1c" stroke-width="2.7" />
<line x1="3520.30" y1="188.80" x2="3511.30" y2="188.80" stroke="#1c1c1c" stroke-width="2.7" />
<line x1="2066.00" y1="177.29" x2="2075.00" y2="177.29" stroke="#1c1c1c" stroke-width="2.7" />
<line x1="3520.30" y1="177.29" x2="3511.30" y2="177.29" stroke="#1c1c1c" stroke-width="2.7" />
<line x1="2066.00" y1="166.05" x2="2075.00" y2="166.05" stroke="#1c1c1c" stroke-width="2.7" />
<line x1="3520.30" y1="166.05" x2="3511.30" y2="166.05" stroke="#1c1c1c" stroke-width="2.7" />
<line x1="2066.00" y1="155.07" x2="2075.00" y2="155.07" stroke="#1c1c1c" stroke-width="2.7" />
<line x1="3520.30" y1="155.07" x2="3511.30" y2="155.07" stroke="#1c1c1c" stroke-width="2.7" />
<line x1="2066.00" y1="133.83" x2="2075.00" y2="133.83" stroke="#1c1c1c" stroke-width="2.7" />
<line x1="3520.30" y1="133.83" x2="3511.30" y2="133.83" stroke="#1c1c1c" stroke-width="2.7" />
<line x1="2066.00" y1="123.56" x2="2075.00" y2="123.56" stroke="#1c1c1c" stroke-width="2.7" />
<line x1="3520.30" y1="123.56" x2="3511.30" y2="123.56" stroke="#1c1c1c" stroke-width="2.7" />
<line x1="2066.00" y1="113.50" x2="2075.00" y2="113.50" stroke="#1c1c1c" stroke-width="2.7" />
<line x1="3520.30" y1="113.50" x2="3511.30" y2="113.50" stroke="#1c1c1c" stroke-width="2.7" />
<line x1="2066.00" y1="103.65" x2="2075.00" y2="103.65" stroke="#1c1c1c" stroke-width="2.7" />
<line x1="3520.30" y1="103.65" x2="3511.30" y2="103.65" stroke="#1c1c1c" stroke-width="2.7" />
<line x1="2066.00" y1="84.54" x2="2075.00" y2="84.54" stroke="#1c1c1c" stroke-width="2.7" />
<line x1="3520.30" y1="84.54" x2="3511.30" y2="84.54" stroke="#1c1c1c" stroke-width="2.7" />
<line x1="2066.00" y1="75.26" x2="2075.00" y2="75.26" stroke="#1c1c1c" stroke-width="2.7" />
<line x1="3520.30" y1="75.26" x2="3511.30" y2="75.26" stroke="#1c1c1c" stroke-width="2.7" />
<line x1="2066.00" y1="66.16" x2="2075.00" y2="66.16" stroke="#1c1c1c" stroke-width="2.7" />
<line x1="3520.30" y1="66.16" x2="3511.30" y2="66.16" stroke="#1c1c1c" stroke-width="2.7" />
<line x1="2066.00" y1="57.23" x2="2075.00" y2="57.23" stroke="#1c1c1c" stroke-width="2.7" />
<line x1="3520.30" y1="57.23" x2="3511.30" y2="57.23" stroke="#1c1c1c" stroke-width="2.7" />
<line x1="2066.00" y1="39.86" x2="2075.00" y2="39.86" stroke="#1c1c1c" stroke-width="2.7" />
<line x1="3520.30" y1="39.86" x2="3511.30" y2="39.86" stroke="#1c1c1c" stroke-width="2.7" />
<line x1="2066.00" y1="31.40" x2="2075.00" y2="31.40" stroke="#1c1c1c" stroke-width="2.7" />
<line x1="3520.30" y1="31.40" x2="3511.30" y2="31.40" stroke="#1c1c1c" stroke-width="2.7" />
<line x1="2066.00" y1="23.10" x2="2075.00" y2="23.10" stroke="#1c1c1c" stroke-width="2.7" />
<line x1="3520.30" y1="23.10" x2="3511.30" y2="23.10" stroke="#1c1c1c" stroke-width="2.7" />
<line x1="2066.00" y1="14.93" x2="2075.00" y2="14.93" stroke="#1c1c1c" stroke-width="2.7" />
<line x1="3520.30" y1="14.93" x2="3511.30" y2="14.93" stroke="#1c1c1c" stroke-width="2.7" />
<clipPath id="cpb"><rect x="2064.0" y="8.6" width="1458.3000000000002" height="879.6"/></clipPath>
<g clip-path="url(#cpb)" fill="none" stroke-linejoin="round">
<polyline points="2066.0,427.7 2116.2,747.9 2166.3,837.5 2216.4,842.0 2266.6,844.3 2316.8,845.7 2366.9,846.4 2417.1,847.0 2467.2,849.2 2517.3,850.6 2567.5,862.9 2617.7,873.3 2667.8,881.2 2717.9,883.2 2768.1,884.3 2818.2,884.3 2868.4,884.3 2918.6,884.3 2968.7,884.3 3018.8,884.3 3069.0,884.3 3119.1,884.3 3169.3,884.3 3219.4,884.3 3269.6,884.3 3319.8,884.3 3369.9,884.3 3420.1,884.3 3470.2,884.3 3520.3,884.3" stroke="#ff0000" stroke-width="3.5999999999999996"/>
<polyline points="2316.8,845.7 2366.9,846.4 2417.1,847.0 2467.2,849.2 2517.3,850.6 2567.5,862.9 2617.7,873.3 2667.8,881.2 2717.9,883.2" stroke="#ff0000" stroke-width="4.0"/>
<polyline points="2717.9,883.2 2768.1,884.3 2818.2,884.3 2868.4,884.3 2918.6,884.3 2968.7,884.3 3018.8,884.3 3069.0,884.3 3119.1,884.3 3169.3,884.3 3219.4,884.3 3269.6,884.3 3319.8,884.3 3369.9,884.3 3420.1,884.3 3470.2,884.3 3520.3,884.3" stroke="#ff0000" stroke-width="5.5"/>
<polyline points="2066.0,263.0 2116.2,512.0 2166.3,621.3 2216.4,651.0 2266.6,658.2 2316.8,658.2 2366.9,658.2 2417.1,658.2 2467.2,658.2 2517.3,658.2 2567.5,658.2 2617.7,658.2 2667.8,658.5 2717.9,658.8 2768.1,659.1 2818.2,659.7 2868.4,660.4 2918.6,661.2 2968.7,662.5 3018.8,667.7 3069.0,703.1 3119.1,752.5 3169.3,801.0 3219.4,806.0 3269.6,808.0 3319.8,810.0 3369.9,810.8 3420.1,811.3 3470.2,811.8 3520.3,812.3" stroke="#00ff00" stroke-width="3.5999999999999996"/>
<polyline points="2266.6,658.2 2316.8,658.2 2366.9,658.2 2417.1,658.2 2467.2,658.2 2517.3,658.2 2567.5,658.2 2617.7,658.2 2667.8,658.5 2717.9,658.8 2768.1,659.1" stroke="#00ff00" stroke-width="5.0"/>
<polyline points="2066.0,96.0 2116.2,558.7 2166.3,717.9 2216.4,771.0 2266.6,798.2 2316.8,799.8 2366.9,799.9 2417.1,800.0 2467.2,800.1 2517.3,800.1 2567.5,800.2 2617.7,800.3 2667.8,800.4 2717.9,800.5 2768.1,800.6 2818.2,800.7 2868.4,800.8 2918.6,800.8 2968.7,800.9 3018.8,801.0 3069.0,801.1 3119.1,801.2 3169.3,801.3 3219.4,801.4 3269.6,801.5 3319.8,801.5 3369.9,801.6 3420.1,801.7 3470.2,801.8 3520.3,801.9" stroke="#0000ff" stroke-width="3.5999999999999996"/>
<polyline points="2266.6,798.2 2316.8,799.8 2366.9,799.9 2417.1,800.0 2467.2,800.1 2517.3,800.1 2567.5,800.2 2617.7,800.3 2667.8,800.4 2717.9,800.5 2768.1,800.6 2818.2,800.7 2868.4,800.8 2918.6,800.8 2968.7,800.9 3018.8,801.0 3069.0,801.1 3119.1,801.2 3169.3,801.3 3219.4,801.4 3269.6,801.5 3319.8,801.5 3369.9,801.6 3420.1,801.7 3470.2,801.8 3520.3,801.9" stroke="#0000ff" stroke-width="5.0"/>
<polyline points="2066.0,10.8 2116.2,656.2 2166.3,762.5 2216.4,801.0 2266.6,834.2 2316.8,845.2 2366.9,847.8 2417.1,848.4 2467.2,848.4 2517.3,848.4 2567.5,848.4 2617.7,848.4 2667.8,848.4 2717.9,848.4 2768.1,848.4 2818.2,848.4 2868.4,848.4 2918.6,848.4 2968.7,848.4 3018.8,848.4 3069.0,848.4 3119.1,848.4 3169.3,848.4 3219.4,848.4 3269.6,848.4 3319.8,848.4 3369.9,848.4 3420.1,848.4 3470.2,848.4 3520.3,848.4" stroke="#00ffff" stroke-width="3.4000000000000004"/>
<polyline points="2316.8,845.2 2366.9,847.8 2417.1,848.4 2467.2,848.4 2517.3,848.4 2567.5,848.4 2617.7,848.4 2667.8,848.4 2717.9,848.4 2768.1,848.4 2818.2,848.4 2868.4,848.4 2918.6,848.4 2968.7,848.4 3018.8,848.4 3069.0,848.4 3119.1,848.4 3169.3,848.4 3219.4,848.4 3269.6,848.4 3319.8,848.4 3369.9,848.4 3420.1,848.4 3470.2,848.4 3520.3,848.4" stroke="#00ffff" stroke-width="4.0"/>
<polyline points="2066.0,193.5 2116.2,446.6 2166.3,495.5 2216.4,517.9 2266.6,535.4 2316.8,542.7 2366.9,554.3 2417.1,567.4 2467.2,574.1 2517.3,576.7 2567.5,577.0 2617.7,582.8 2667.8,634.4 2717.9,699.9 2768.1,775.6 2818.2,801.9 2868.4,807.2 2918.6,807.5 2968.7,807.5 3018.8,807.6 3069.0,807.6 3119.1,807.7 3169.3,807.7 3219.4,807.8 3269.6,807.8 3319.8,807.8 3369.9,807.9 3420.1,807.9 3470.2,808.0 3520.3,808.0" stroke="#ff00ff" stroke-width="3.5"/>
<polyline points="2066.0,92.9 2116.2,647.5 2166.3,759.0 2216.4,773.6 2266.6,789.8 2316.8,802.5 2366.9,810.0 2417.1,811.2 2467.2,812.5 2517.3,813.4 2567.5,814.9 2617.7,816.9 2667.8,819.3 2717.9,821.8 2768.1,823.4 2818.2,823.4 2868.4,823.5 2918.6,823.5 2968.7,823.5 3018.8,823.5 3069.0,823.6 3119.1,823.6 3169.3,823.6 3219.4,823.6 3269.6,823.7 3319.8,823.7 3369.9,823.7 3420.1,823.7 3470.2,823.8 3520.3,823.8" stroke="#000000" stroke-width="3.8"/>
<polyline points="2316.8,802.5 2366.9,810.0 2417.1,811.2 2467.2,812.5 2517.3,813.4 2567.5,814.9 2617.7,816.9 2667.8,819.3 2717.9,821.8 2768.1,823.4 2818.2,823.4 2868.4,823.5 2918.6,823.5 2968.7,823.5 3018.8,823.5 3069.0,823.6 3119.1,823.6 3169.3,823.6 3219.4,823.6 3269.6,823.7 3319.8,823.7 3369.9,823.7 3420.1,823.7 3470.2,823.8 3520.3,823.8" stroke="#000000" stroke-width="4.5"/>
<polyline points="2066.0,571.2 2116.2,600.9 2166.3,628.5 2216.4,654.8 2266.6,679.5 2316.8,698.4 2366.9,712.1 2417.1,720.3 2467.2,724.0 2517.3,724.9 2567.5,725.2 2617.7,725.2 2667.8,725.3 2717.9,725.3 2768.1,725.4 2818.2,725.4 2868.4,725.5 2918.6,725.5 2968.7,725.6 3018.8,725.6 3069.0,725.7 3119.1,725.7 3169.3,725.8 3219.4,725.8 3269.6,725.9 3319.8,725.9 3369.9,726.0 3420.1,726.0 3470.2,726.1 3520.3,726.1" stroke="#8c0c28" stroke-width="3.5999999999999996"/>
<polyline points="2316.8,698.4 2366.9,712.1 2417.1,720.3 2467.2,724.0 2517.3,724.9 2567.5,725.2 2617.7,725.2 2667.8,725.3 2717.9,725.3 2768.1,725.4 2818.2,725.4 2868.4,725.5 2918.6,725.5 2968.7,725.6 3018.8,725.6 3069.0,725.7 3119.1,725.7 3169.3,725.8 3219.4,725.8 3269.6,725.9 3319.8,725.9 3369.9,726.0 3420.1,726.0 3470.2,726.1 3520.3,726.1" stroke="#8c0c28" stroke-width="4.5"/>
</g>
<rect x="3260.6" y="83.4" width="231.70000000000027" height="295.79999999999995" fill="#d8d8d8"/>
<rect x="3258.6" y="81.4" width="231.70000000000027" height="295.79999999999995" fill="#ffffff" stroke="#4a4a4a" stroke-width="2.4"/>
<line x1="3269.30" y1="106.00" x2="3377.60" y2="106.00" stroke="#ff0000" stroke-width="3.4000000000000004" />
<text transform="matrix(0.16430 0 0 0.15775 3384.47 117.88)" font-family="Liberation Sans" font-size="200" fill="#000000" stroke="#000000" stroke-width="3.35">MSPO</text>
<line x1="3269.30" y1="147.10" x2="3377.60" y2="147.10" stroke="#00ff00" stroke-width="3.4000000000000004" />
<text transform="matrix(0.16430 0 0 0.15775 3384.47 158.98)" font-family="Liberation Sans" font-size="200" fill="#000000" stroke="#000000" stroke-width="3.35">PO</text>
<line x1="3269.30" y1="188.20" x2="3377.60" y2="188.20" stroke="#0000ff" stroke-width="5.3999999999999995" />
<text transform="matrix(0.16430 0 0 0.15775 3386.94 200.08)" font-family="Liberation Sans" font-size="200" fill="#000000" stroke="#000000" stroke-width="3.35">WOA</text>
<line x1="3269.30" y1="229.30" x2="3377.60" y2="229.30" stroke="#00ffff" stroke-width="3.4000000000000004" />
<text transform="matrix(0.16430 0 0 0.15775 3385.62 241.18)" font-family="Liberation Sans" font-size="200" fill="#000000" stroke="#000000" stroke-width="3.35">SCA</text>
<line x1="3269.30" y1="270.40" x2="3377.60" y2="270.40" stroke="#ff00ff" stroke-width="4.2" />
<text transform="matrix(0.16430 0 0 0.15775 3384.47 282.28)" font-family="Liberation Sans" font-size="200" fill="#000000" stroke="#000000" stroke-width="3.35">HHO</text>
<line x1="3269.30" y1="311.50" x2="3377.60" y2="311.50" stroke="#000000" stroke-width="4.4" />
<text transform="matrix(0.16430 0 0 0.15775 3385.46 323.38)" font-family="Liberation Sans" font-size="200" fill="#000000" stroke="#000000" stroke-width="3.35">GA</text>
<line x1="3269.30" y1="352.60" x2="3377.60" y2="352.60" stroke="#8c0c28" stroke-width="3.4000000000000004" />
<text transform="matrix(0.16430 0 0 0.15775 3384.47 364.80)" font-family="Liberation Sans" font-size="200" fill="#000000" stroke="#000000" stroke-width="3.35">BA</text>
<text transform="matrix(0.18050 0 0 0.18099 2179.02 934.84)" font-family="Liberation Sans" font-size="200" fill="#262626">100</text>
<text transform="matrix(0.18050 0 0 0.18099 2325.08 934.84)" font-family="Liberation Sans" font-size="200" fill="#262626">200</text>
<text transform="matrix(0.18050 0 0 0.18099 2470.86 934.84)" font-family="Liberation Sans" font-size="200" fill="#262626">300</text>
<text transform="matrix(0.18050 0 0 0.18099 2616.82 934.84)" font-family="Liberation Sans" font-size="200" fill="#262626">400</text>
<text transform="matrix(0.18050 0 0 0.18099 2762.06 934.84)" font-family="Liberation Sans" font-size="200" fill="#262626">500</text>
<text transform="matrix(0.18050 0 0 0.18099 2907.48 934.84)" font-family="Liberation Sans" font-size="200" fill="#262626">600</text>
<text transform="matrix(0.18050 0 0 0.18099 3053.08 934.84)" font-family="Liberation Sans" font-size="200" fill="#262626">700</text>
<text transform="matrix(0.18050 0 0 0.18099 3198.77 934.84)" font-family="Liberation Sans" font-size="200" fill="#262626">800</text>
<text transform="matrix(0.18050 0 0 0.18099 3344.37 934.84)" font-family="Liberation Sans" font-size="200" fill="#262626">900</text>
<text transform="matrix(0.18050 0 0 0.18099 3479.32 934.84)" font-family="Liberation Sans" font-size="200" fill="#262626">1000</text>
<text transform="matrix(0.19754 0 0 0.20068 2721.24 987.80)" font-family="Liberation Sans" font-size="200" fill="#262626">Iteration</text>
<text transform="matrix(0 -0.19670 0.20476 0 1952.39 565.05)" font-family="Liberation Sans" font-size="200" fill="#262626">Fitness value</text>
<text transform="matrix(0.17977 0 0 0.18451 1971.76 62.20)" font-family="Liberation Sans" font-size="200" fill="#262626">5500</text>
<text transform="matrix(0.17977 0 0 0.18451 1971.76 107.73)" font-family="Liberation Sans" font-size="200" fill="#262626">5000</text>
<text transform="matrix(0.17977 0 0 0.18451 1971.76 158.06)" font-family="Liberation Sans" font-size="200" fill="#262626">4500</text>
<text transform="matrix(0.17977 0 0 0.18451 1971.76 214.33)" font-family="Liberation Sans" font-size="200" fill="#262626">4000</text>
<text transform="matrix(0.17977 0 0 0.18451 1971.76 278.12)" font-family="Liberation Sans" font-size="200" fill="#262626">3500</text>
<text transform="matrix(0.17977 0 0 0.18451 1971.76 351.76)" font-family="Liberation Sans" font-size="200" fill="#262626">3000</text>
<text transform="matrix(0.17977 0 0 0.18451 1971.76 438.86)" font-family="Liberation Sans" font-size="200" fill="#262626">2500</text>
<text transform="matrix(0.17977 0 0 0.18451 1971.76 545.46)" font-family="Liberation Sans" font-size="200" fill="#262626">2000</text>
<text transform="matrix(0.17977 0 0 0.18451 1971.76 682.90)" font-family="Liberation Sans" font-size="200" fill="#262626">1500</text>
<text transform="matrix(0.17977 0 0 0.18451 1971.76 876.60)" font-family="Liberation Sans" font-size="200" fill="#262626">1000</text>
</g>
<g>
<line x1="415.00" y1="1021.40" x2="415.00" y2="1901.40" stroke="#eeeeee" stroke-width="3.8" />
<line x1="561.40" y1="1021.40" x2="561.40" y2="1901.40" stroke="#eeeeee" stroke-width="3.8" />
<line x1="707.80" y1="1021.40" x2="707.80" y2="1901.40" stroke="#eeeeee" stroke-width="3.8" />
<line x1="854.20" y1="1021.40" x2="854.20" y2="1901.40" stroke="#eeeeee" stroke-width="3.8" />
<line x1="1000.60" y1="1021.40" x2="1000.60" y2="1901.40" stroke="#eeeeee" stroke-width="3.8" />
<line x1="1147.00" y1="1021.40" x2="1147.00" y2="1901.40" stroke="#eeeeee" stroke-width="3.8" />
<line x1="1293.40" y1="1021.40" x2="1293.40" y2="1901.40" stroke="#eeeeee" stroke-width="3.8" />
<line x1="1439.80" y1="1021.40" x2="1439.80" y2="1901.40" stroke="#eeeeee" stroke-width="3.8" />
<line x1="1586.20" y1="1021.40" x2="1586.20" y2="1901.40" stroke="#eeeeee" stroke-width="3.8" />
<line x1="270.20" y1="1115.30" x2="1734.20" y2="1115.30" stroke="#ebebeb" stroke-width="3.4" />
<line x1="270.20" y1="1252.75" x2="1734.20" y2="1252.75" stroke="#ebebeb" stroke-width="3.4" />
<line x1="270.20" y1="1390.20" x2="1734.20" y2="1390.20" stroke="#f4f4f4" stroke-width="3.4" />
<line x1="270.20" y1="1527.65" x2="1734.20" y2="1527.65" stroke="#f4f4f4" stroke-width="3.4" />
<line x1="270.20" y1="1665.10" x2="1734.20" y2="1665.10" stroke="#ebebeb" stroke-width="3.4" />
<line x1="270.20" y1="1802.55" x2="1734.20" y2="1802.55" stroke="#ebebeb" stroke-width="3.4" />
<line x1="284.20" y1="1898.62" x2="1734.20" y2="1898.62" stroke="#c2c2c2" stroke-width="2.8" stroke-dasharray="4.4 5.1" opacity="1.0"/>
<line x1="284.20" y1="1874.42" x2="1734.20" y2="1874.42" stroke="#c2c2c2" stroke-width="2.8" stroke-dasharray="4.4 5.1" opacity="1.0"/>
<line x1="284.20" y1="1857.25" x2="1734.20" y2="1857.25" stroke="#c2c2c2" stroke-width="2.8" stroke-dasharray="4.4 5.1" opacity="0.42"/>
<line x1="284.20" y1="1843.93" x2="1734.20" y2="1843.93" stroke="#c2c2c2" stroke-width="2.8" stroke-dasharray="4.4 5.1" opacity="1.0"/>
<line x1="284.20" y1="1833.04" x2="1734.20" y2="1833.04" stroke="#c2c2c2" stroke-width="2.8" stroke-dasharray="4.4 5.1" opacity="1.0"/>
<line x1="284.20" y1="1823.84" x2="1734.20" y2="1823.84" stroke="#c2c2c2" stroke-width="2.8" stroke-dasharray="4.4 5.1" opacity="1.0"/>
<line x1="284.20" y1="1815.87" x2="1734.20" y2="1815.87" stroke="#c2c2c2" stroke-width="2.8" stroke-dasharray="4.4 5.1" opacity="1.0"/>
<line x1="284.20" y1="1808.84" x2="1734.20" y2="1808.84" stroke="#c2c2c2" stroke-width="2.8" stroke-dasharray="4.4 5.1" opacity="1.0"/>
<line x1="284.20" y1="1761.17" x2="1734.20" y2="1761.17" stroke="#c2c2c2" stroke-width="2.8" stroke-dasharray="4.4 5.1" opacity="0.42"/>
<line x1="284.20" y1="1736.97" x2="1734.20" y2="1736.97" stroke="#c2c2c2" stroke-width="2.8" stroke-dasharray="4.4 5.1" opacity="1.0"/>
<line x1="284.20" y1="1719.80" x2="1734.20" y2="1719.80" stroke="#c2c2c2" stroke-width="2.8" stroke-dasharray="4.4 5.1" opacity="1.0"/>
<line x1="284.20" y1="1706.48" x2="1734.20" y2="1706.48" stroke="#c2c2c2" stroke-width="2.8" stroke-dasharray="4.4 5.1" opacity="1.0"/>
<line x1="284.20" y1="1695.59" x2="1734.20" y2="1695.59" stroke="#c2c2c2" stroke-width="2.8" stroke-dasharray="4.4 5.1" opacity="1.0"/>
<line x1="284.20" y1="1686.39" x2="1734.20" y2="1686.39" stroke="#c2c2c2" stroke-width="2.8" stroke-dasharray="4.4 5.1" opacity="1.0"/>
<line x1="284.20" y1="1678.42" x2="1734.20" y2="1678.42" stroke="#c2c2c2" stroke-width="2.8" stroke-dasharray="4.4 5.1" opacity="1.0"/>
<line x1="284.20" y1="1671.39" x2="1734.20" y2="1671.39" stroke="#c2c2c2" stroke-width="2.8" stroke-dasharray="4.4 5.1" opacity="1.0"/>
<line x1="284.20" y1="1623.72" x2="1734.20" y2="1623.72" stroke="#c2c2c2" stroke-width="2.8" stroke-dasharray="4.4 5.1" opacity="0.18"/>
<line x1="284.20" y1="1599.52" x2="1734.20" y2="1599.52" stroke="#c2c2c2" stroke-width="2.8" stroke-dasharray="4.4 5.1" opacity="1.0"/>
<line x1="284.20" y1="1582.35" x2="1734.20" y2="1582.35" stroke="#c2c2c2" stroke-width="2.8" stroke-dasharray="4.4 5.1" opacity="1.0"/>
<line x1="284.20" y1="1569.03" x2="1734.20" y2="1569.03" stroke="#c2c2c2" stroke-width="2.8" stroke-dasharray="4.4 5.1" opacity="1.0"/>
<line x1="284.20" y1="1558.14" x2="1734.20" y2="1558.14" stroke="#c2c2c2" stroke-width="2.8" stroke-dasharray="4.4 5.1" opacity="0.42"/>
<line x1="284.20" y1="1548.94" x2="1734.20" y2="1548.94" stroke="#c2c2c2" stroke-width="2.8" stroke-dasharray="4.4 5.1" opacity="1.0"/>
<line x1="284.20" y1="1540.97" x2="1734.20" y2="1540.97" stroke="#c2c2c2" stroke-width="2.8" stroke-dasharray="4.4 5.1" opacity="1.0"/>
<line x1="284.20" y1="1533.94" x2="1734.20" y2="1533.94" stroke="#c2c2c2" stroke-width="2.8" stroke-dasharray="4.4 5.1" opacity="1.0"/>
<line x1="284.20" y1="1486.27" x2="1734.20" y2="1486.27" stroke="#c2c2c2" stroke-width="2.8" stroke-dasharray="4.4 5.1" opacity="0.42"/>
<line x1="284.20" y1="1462.07" x2="1734.20" y2="1462.07" stroke="#c2c2c2" stroke-width="2.8" stroke-dasharray="4.4 5.1" opacity="1.0"/>
<line x1="284.20" y1="1444.90" x2="1734.20" y2="1444.90" stroke="#c2c2c2" stroke-width="2.8" stroke-dasharray="4.4 5.1" opacity="1.0"/>
<line x1="284.20" y1="1431.58" x2="1734.20" y2="1431.58" stroke="#c2c2c2" stroke-width="2.8" stroke-dasharray="4.4 5.1" opacity="1.0"/>
<line x1="284.20" y1="1420.69" x2="1734.20" y2="1420.69" stroke="#c2c2c2" stroke-width="2.8" stroke-dasharray="4.4 5.1" opacity="0.18"/>
<line x1="284.20" y1="1411.49" x2="1734.20" y2="1411.49" stroke="#c2c2c2" stroke-width="2.8" stroke-dasharray="4.4 5.1" opacity="1.0"/>
<line x1="284.20" y1="1403.52" x2="1734.20" y2="1403.52" stroke="#c2c2c2" stroke-width="2.8" stroke-dasharray="4.4 5.1" opacity="1.0"/>
<line x1="284.20" y1="1396.49" x2="1734.20" y2="1396.49" stroke="#c2c2c2" stroke-width="2.8" stroke-dasharray="4.4 5.1" opacity="1.0"/>
<line x1="284.20" y1="1348.82" x2="1734.20" y2="1348.82" stroke="#c2c2c2" stroke-width="2.8" stroke-dasharray="4.4 5.1" opacity="1.0"/>
<line x1="284.20" y1="1324.62" x2="1734.20" y2="1324.62" stroke="#c2c2c2" stroke-width="2.8" stroke-dasharray="4.4 5.1" opacity="0.42"/>
<line x1="284.20" y1="1307.45" x2="1734.20" y2="1307.45" stroke="#c2c2c2" stroke-width="2.8" stroke-dasharray="4.4 5.1" opacity="1.0"/>
<line x1="284.20" y1="1294.13" x2="1734.20" y2="1294.13" stroke="#c2c2c2" stroke-width="2.8" stroke-dasharray="4.4 5.1" opacity="0.42"/>
<line x1="284.20" y1="1283.24" x2="1734.20" y2="1283.24" stroke="#c2c2c2" stroke-width="2.8" stroke-dasharray="4.4 5.1" opacity="1.0"/>
<line x1="284.20" y1="1274.04" x2="1734.20" y2="1274.04" stroke="#c2c2c2" stroke-width="2.8" stroke-dasharray="4.4 5.1" opacity="0.42"/>
<line x1="284.20" y1="1266.07" x2="1734.20" y2="1266.07" stroke="#c2c2c2" stroke-width="2.8" stroke-dasharray="4.4 5.1" opacity="0.42"/>
<line x1="284.20" y1="1259.04" x2="1734.20" y2="1259.04" stroke="#c2c2c2" stroke-width="2.8" stroke-dasharray="4.4 5.1" opacity="1.0"/>
<line x1="284.20" y1="1211.37" x2="1734.20" y2="1211.37" stroke="#c2c2c2" stroke-width="2.8" stroke-dasharray="4.4 5.1" opacity="1.0"/>
<line x1="284.20" y1="1187.17" x2="1734.20" y2="1187.17" stroke="#c2c2c2" stroke-width="2.8" stroke-dasharray="4.4 5.1" opacity="0.42"/>
<line x1="284.20" y1="1170.00" x2="1734.20" y2="1170.00" stroke="#c2c2c2" stroke-width="2.8" stroke-dasharray="4.4 5.1" opacity="1.0"/>
<line x1="284.20" y1="1156.68" x2="1734.20" y2="1156.68" stroke="#c2c2c2" stroke-width="2.8" stroke-dasharray="4.4 5.1" opacity="0.42"/>
<line x1="284.20" y1="1145.79" x2="1734.20" y2="1145.79" stroke="#c2c2c2" stroke-width="2.8" stroke-dasharray="4.4 5.1" opacity="1.0"/>
<line x1="284.20" y1="1136.59" x2="1734.20" y2="1136.59" stroke="#c2c2c2" stroke-width="2.8" stroke-dasharray="4.4 5.1" opacity="0.42"/>
<line x1="284.20" y1="1128.62" x2="1734.20" y2="1128.62" stroke="#c2c2c2" stroke-width="2.8" stroke-dasharray="4.4 5.1" opacity="0.42"/>
<line x1="284.20" y1="1121.59" x2="1734.20" y2="1121.59" stroke="#c2c2c2" stroke-width="2.8" stroke-dasharray="4.4 5.1" opacity="0.42"/>
<line x1="284.20" y1="1073.92" x2="1734.20" y2="1073.92" stroke="#c2c2c2" stroke-width="2.8" stroke-dasharray="4.4 5.1" opacity="1.0"/>
<line x1="284.20" y1="1049.72" x2="1734.20" y2="1049.72" stroke="#c2c2c2" stroke-width="2.8" stroke-dasharray="4.4 5.1" opacity="1.0"/>
<line x1="284.20" y1="1032.55" x2="1734.20" y2="1032.55" stroke="#c2c2c2" stroke-width="2.8" stroke-dasharray="4.4 5.1" opacity="0.42"/>
<line x1="269.00" y1="1021.40" x2="1735.40" y2="1021.40" stroke="#303030" stroke-width="3.2" />
<line x1="1734.20" y1="1021.40" x2="1734.20" y2="1901.40" stroke="#303030" stroke-width="3.2" />
<line x1="269.00" y1="1901.40" x2="1735.40" y2="1901.40" stroke="#303030" stroke-width="3.2" />
<line x1="270.20" y1="1021.40" x2="270.20" y2="1901.40" stroke="#303030" stroke-width="3.2" />
<line x1="415.00" y1="1901.40" x2="415.00" y2="1886.90" stroke="#1c1c1c" stroke-width="2.9" />
<line x1="415.00" y1="1021.40" x2="415.00" y2="1035.90" stroke="#1c1c1c" stroke-width="2.9" />
<line x1="561.40" y1="1901.40" x2="561.40" y2="1886.90" stroke="#1c1c1c" stroke-width="2.9" />
<line x1="561.40" y1="1021.40" x2="561.40" y2="1035.90" stroke="#1c1c1c" stroke-width="2.9" />
<line x1="707.80" y1="1901.40" x2="707.80" y2="1886.90" stroke="#1c1c1c" stroke-width="2.9" />
<line x1="707.80" y1="1021.40" x2="707.80" y2="1035.90" stroke="#1c1c1c" stroke-width="2.9" />
<line x1="854.20" y1="1901.40" x2="854.20" y2="1886.90" stroke="#1c1c1c" stroke-width="2.9" />
<line x1="854.20" y1="1021.40" x2="854.20" y2="1035.90" stroke="#1c1c1c" stroke-width="2.9" />
<line x1="1000.60" y1="1901.40" x2="1000.60" y2="1886.90" stroke="#1c1c1c" stroke-width="2.9" />
<line x1="1000.60" y1="1021.40" x2="1000.60" y2="1035.90" stroke="#1c1c1c" stroke-width="2.9" />
<line x1="1147.00" y1="1901.40" x2="1147.00" y2="1886.90" stroke="#1c1c1c" stroke-width="2.9" />
<line x1="1147.00" y1="1021.40" x2="1147.00" y2="1035.90" stroke="#1c1c1c" stroke-width="2.9" />
<line x1="1293.40" y1="1901.40" x2="1293.40" y2="1886.90" stroke="#1c1c1c" stroke-width="2.9" />
<line x1="1293.40" y1="1021.40" x2="1293.40" y2="1035.90" stroke="#1c1c1c" stroke-width="2.9" />
<line x1="1439.80" y1="1901.40" x2="1439.80" y2="1886.90" stroke="#1c1c1c" stroke-width="2.9" />
<line x1="1439.80" y1="1021.40" x2="1439.80" y2="1035.90" stroke="#1c1c1c" stroke-width="2.9" />
<line x1="1586.20" y1="1901.40" x2="1586.20" y2="1886.90" stroke="#1c1c1c" stroke-width="2.9" />
<line x1="1586.20" y1="1021.40" x2="1586.20" y2="1035.90" stroke="#1c1c1c" stroke-width="2.9" />
<line x1="270.20" y1="1115.30" x2="286.20" y2="1115.30" stroke="#1c1c1c" stroke-width="2.7" />
<line x1="1734.20" y1="1115.30" x2="1718.20" y2="1115.30" stroke="#1c1c1c" stroke-width="2.7" />
<line x1="270.20" y1="1252.75" x2="286.20" y2="1252.75" stroke="#1c1c1c" stroke-width="2.7" />
<line x1="1734.20" y1="1252.75" x2="1718.20" y2="1252.75" stroke="#1c1c1c" stroke-width="2.7" />
<line x1="270.20" y1="1390.20" x2="286.20" y2="1390.20" stroke="#1c1c1c" stroke-width="2.7" />
<line x1="1734.20" y1="1390.20" x2="1718.20" y2="1390.20" stroke="#1c1c1c" stroke-width="2.7" />
<line x1="270.20" y1="1527.65" x2="286.20" y2="1527.65" stroke="#1c1c1c" stroke-width="2.7" />
<line x1="1734.20" y1="1527.65" x2="1718.20" y2="1527.65" stroke="#1c1c1c" stroke-width="2.7" />
<line x1="270.20" y1="1665.10" x2="286.20" y2="1665.10" stroke="#1c1c1c" stroke-width="2.7" />
<line x1="1734.20" y1="1665.10" x2="1718.20" y2="1665.10" stroke="#1c1c1c" stroke-width="2.7" />
<line x1="270.20" y1="1802.55" x2="286.20" y2="1802.55" stroke="#1c1c1c" stroke-width="2.7" />
<line x1="1734.20" y1="1802.55" x2="1718.20" y2="1802.55" stroke="#1c1c1c" stroke-width="2.7" />
<line x1="270.20" y1="1898.62" x2="279.20" y2="1898.62" stroke="#1c1c1c" stroke-width="2.7" />
<line x1="1734.20" y1="1898.62" x2="1725.20" y2="1898.62" stroke="#1c1c1c" stroke-width="2.7" />
<line x1="270.20" y1="1874.42" x2="279.20" y2="1874.42" stroke="#1c1c1c" stroke-width="2.7" />
<line x1="1734.20" y1="1874.42" x2="1725.20" y2="1874.42" stroke="#1c1c1c" stroke-width="2.7" />
<line x1="270.20" y1="1857.25" x2="279.20" y2="1857.25" stroke="#1c1c1c" stroke-width="2.7" />
<line x1="1734.20" y1="1857.25" x2="1725.20" y2="1857.25" stroke="#1c1c1c" stroke-width="2.7" />
<line x1="270.20" y1="1843.93" x2="279.20" y2="1843.93" stroke="#1c1c1c" stroke-width="2.7" />
<line x1="1734.20" y1="1843.93" x2="1725.20" y2="1843.93" stroke="#1c1c1c" stroke-width="2.7" />
<line x1="270.20" y1="1833.04" x2="279.20" y2="1833.04" stroke="#1c1c1c" stroke-width="2.7" />
<line x1="1734.20" y1="1833.04" x2="1725.20" y2="1833.04" stroke="#1c1c1c" stroke-width="2.7" />
<line x1="270.20" y1="1823.84" x2="279.20" y2="1823.84" stroke="#1c1c1c" stroke-width="2.7" />
<line x1="1734.20" y1="1823.84" x2="1725.20" y2="1823.84" stroke="#1c1c1c" stroke-width="2.7" />
<line x1="270.20" y1="1815.87" x2="279.20" y2="1815.87" stroke="#1c1c1c" stroke-width="2.7" />
<line x1="1734.20" y1="1815.87" x2="1725.20" y2="1815.87" stroke="#1c1c1c" stroke-width="2.7" />
<line x1="270.20" y1="1808.84" x2="279.20" y2="1808.84" stroke="#1c1c1c" stroke-width="2.7" />
<line x1="1734.20" y1="1808.84" x2="1725.20" y2="1808.84" stroke="#1c1c1c" stroke-width="2.7" />
<line x1="270.20" y1="1761.17" x2="279.20" y2="1761.17" stroke="#1c1c1c" stroke-width="2.7" />
<line x1="1734.20" y1="1761.17" x2="1725.20" y2="1761.17" stroke="#1c1c1c" stroke-width="2.7" />
<line x1="270.20" y1="1736.97" x2="279.20" y2="1736.97" stroke="#1c1c1c" stroke-width="2.7" />
<line x1="1734.20" y1="1736.97" x2="1725.20" y2="1736.97" stroke="#1c1c1c" stroke-width="2.7" />
<line x1="270.20" y1="1719.80" x2="279.20" y2="1719.80" stroke="#1c1c1c" stroke-width="2.7" />
<line x1="1734.20" y1="1719.80" x2="1725.20" y2="1719.80" stroke="#1c1c1c" stroke-width="2.7" />
<line x1="270.20" y1="1706.48" x2="279.20" y2="1706.48" stroke="#1c1c1c" stroke-width="2.7" />
<line x1="1734.20" y1="1706.48" x2="1725.20" y2="1706.48" stroke="#1c1c1c" stroke-width="2.7" />
<line x1="270.20" y1="1695.59" x2="279.20" y2="1695.59" stroke="#1c1c1c" stroke-width="2.7" />
<line x1="1734.20" y1="1695.59" x2="1725.20" y2="1695.59" stroke="#1c1c1c" stroke-width="2.7" />
<line x1="270.20" y1="1686.39" x2="279.20" y2="1686.39" stroke="#1c1c1c" stroke-width="2.7" />
<line x1="1734.20" y1="1686.39" x2="1725.20" y2="1686.39" stroke="#1c1c1c" stroke-width="2.7" />
<line x1="270.20" y1="1678.42" x2="279.20" y2="1678.42" stroke="#1c1c1c" stroke-width="2.7" />
<line x1="1734.20" y1="1678.42" x2="1725.20" y2="1678.42" stroke="#1c1c1c" stroke-width="2.7" />
<line x1="270.20" y1="1671.39" x2="279.20" y2="1671.39" stroke="#1c1c1c" stroke-width="2.7" />
<line x1="1734.20" y1="1671.39" x2="1725.20" y2="1671.39" stroke="#1c1c1c" stroke-width="2.7" />
<line x1="270.20" y1="1623.72" x2="279.20" y2="1623.72" stroke="#1c1c1c" stroke-width="2.7" />
<line x1="1734.20" y1="1623.72" x2="1725.20" y2="1623.72" stroke="#1c1c1c" stroke-width="2.7" />
<line x1="270.20" y1="1599.52" x2="279.20" y2="1599.52" stroke="#1c1c1c" stroke-width="2.7" />
<line x1="1734.20" y1="1599.52" x2="1725.20" y2="1599.52" stroke="#1c1c1c" stroke-width="2.7" />
<line x1="270.20" y1="1582.35" x2="279.20" y2="1582.35" stroke="#1c1c1c" stroke-width="2.7" />
<line x1="1734.20" y1="1582.35" x2="1725.20" y2="1582.35" stroke="#1c1c1c" stroke-width="2.7" />
<line x1="270.20" y1="1569.03" x2="279.20" y2="1569.03" stroke="#1c1c1c" stroke-width="2.7" />
<line x1="1734.20" y1="1569.03" x2="1725.20" y2="1569.03" stroke="#1c1c1c" stroke-width="2.7" />
<line x1="270.20" y1="1558.14" x2="279.20" y2="1558.14" stroke="#1c1c1c" stroke-width="2.7" />
<line x1="1734.20" y1="1558.14" x2="1725.20" y2="1558.14" stroke="#1c1c1c" stroke-width="2.7" />
<line x1="270.20" y1="1548.94" x2="279.20" y2="1548.94" stroke="#1c1c1c" stroke-width="2.7" />
<line x1="1734.20" y1="1548.94" x2="1725.20" y2="1548.94" stroke="#1c1c1c" stroke-width="2.7" />
<line x1="270.20" y1="1540.97" x2="279.20" y2="1540.97" stroke="#1c1c1c" stroke-width="2.7" />
<line x1="1734.20" y1="1540.97" x2="1725.20" y2="1540.97" stroke="#1c1c1c" stroke-width="2.7" />
<line x1="270.20" y1="1533.94" x2="279.20" y2="1533.94" stroke="#1c1c1c" stroke-width="2.7" />
<line x1="1734.20" y1="1533.94" x2="1725.20" y2="1533.94" stroke="#1c1c1c" stroke-width="2.7" />
<line x1="270.20" y1="1486.27" x2="279.20" y2="1486.27" stroke="#1c1c1c" stroke-width="2.7" />
<line x1="1734.20" y1="1486.27" x2="1725.20" y2="1486.27" stroke="#1c1c1c" stroke-width="2.7" />
<line x1="270.20" y1="1462.07" x2="279.20" y2="1462.07" stroke="#1c1c1c" stroke-width="2.7" />
<line x1="1734.20" y1="1462.07" x2="1725.20" y2="1462.07" stroke="#1c1c1c" stroke-width="2.7" />
<line x1="270.20" y1="1444.90" x2="279.20" y2="1444.90" stroke="#1c1c1c" stroke-width="2.7" />
<line x1="1734.20" y1="1444.90" x2="1725.20" y2="1444.90" stroke="#1c1c1c" stroke-width="2.7" />
<line x1="270.20" y1="1431.58" x2="279.20" y2="1431.58" stroke="#1c1c1c" stroke-width="2.7" />
<line x1="1734.20" y1="1431.58" x2="1725.20" y2="1431.58" stroke="#1c1c1c" stroke-width="2.7" />
<line x1="270.20" y1="1420.69" x2="279.20" y2="1420.69" stroke="#1c1c1c" stroke-width="2.7" />
<line x1="1734.20" y1="1420.69" x2="1725.20" y2="1420.69" stroke="#1c1c1c" stroke-width="2.7" />
<line x1="270.20" y1="1411.49" x2="279.20" y2="1411.49" stroke="#1c1c1c" stroke-width="2.7" />
<line x1="1734.20" y1="1411.49" x2="1725.20" y2="1411.49" stroke="#1c1c1c" stroke-width="2.7" />
<line x1="270.20" y1="1403.52" x2="279.20" y2="1403.52" stroke="#1c1c1c" stroke-width="2.7" />
<line x1="1734.20" y1="1403.52" x2="1725.20" y2="1403.52" stroke="#1c1c1c" stroke-width="2.7" />
<line x1="270.20" y1="1396.49" x2="279.20" y2="1396.49" stroke="#1c1c1c" stroke-width="2.7" />
<line x1="1734.20" y1="1396.49" x2="1725.20" y2="1396.49" stroke="#1c1c1c" stroke-width="2.7" />
<line x1="270.20" y1="1348.82" x2="279.20" y2="1348.82" stroke="#1c1c1c" stroke-width="2.7" />
<line x1="1734.20" y1="1348.82" x2="1725.20" y2="1348.82" stroke="#1c1c1c" stroke-width="2.7" />
<line x1="270.20" y1="1324.62" x2="279.20" y2="1324.62" stroke="#1c1c1c" stroke-width="2.7" />
<line x1="1734.20" y1="1324.62" x2="1725.20" y2="1324.62" stroke="#1c1c1c" stroke-width="2.7" />
<line x1="270.20" y1="1307.45" x2="279.20" y2="1307.45" stroke="#1c1c1c" stroke-width="2.7" />
<line x1="1734.20" y1="1307.45" x2="1725.20" y2="1307.45" stroke="#1c1c1c" stroke-width="2.7" />
<line x1="270.20" y1="1294.13" x2="279.20" y2="1294.13" stroke="#1c1c1c" stroke-width="2.7" />
<line x1="1734.20" y1="1294.13" x2="1725.20" y2="1294.13" stroke="#1c1c1c" stroke-width="2.7" />
<line x1="270.20" y1="1283.24" x2="279.20" y2="1283.24" stroke="#1c1c1c" stroke-width="2.7" />
<line x1="1734.20" y1="1283.24" x2="1725.20" y2="1283.24" stroke="#1c1c1c" stroke-width="2.7" />
<line x1="270.20" y1="1274.04" x2="279.20" y2="1274.04" stroke="#1c1c1c" stroke-width="2.7" />
<line x1="1734.20" y1="1274.04" x2="1725.20" y2="1274.04" stroke="#1c1c1c" stroke-width="2.7" />
<line x1="270.20" y1="1266.07" x2="279.20" y2="1266.07" stroke="#1c1c1c" stroke-width="2.7" />
<line x1="1734.20" y1="1266.07" x2="1725.20" y2="1266.07" stroke="#1c1c1c" stroke-width="2.7" />
<line x1="270.20" y1="1259.04" x2="279.20" y2="1259.04" stroke="#1c1c1c" stroke-width="2.7" />
<line x1="1734.20" y1="1259.04" x2="1725.20" y2="1259.04" stroke="#1c1c1c" stroke-width="2.7" />
<line x1="270.20" y1="1211.37" x2="279.20" y2="1211.37" stroke="#1c1c1c" stroke-width="2.7" />
<line x1="1734.20" y1="1211.37" x2="1725.20" y2="1211.37" stroke="#1c1c1c" stroke-width="2.7" />
<line x1="270.20" y1="1187.17" x2="279.20" y2="1187.17" stroke="#1c1c1c" stroke-width="2.7" />
<line x1="1734.20" y1="1187.17" x2="1725.20" y2="1187.17" stroke="#1c1c1c" stroke-width="2.7" />
<line x1="270.20" y1="1170.00" x2="279.20" y2="1170.00" stroke="#1c1c1c" stroke-width="2.7" />
<line x1="1734.20" y1="1170.00" x2="1725.20" y2="1170.00" stroke="#1c1c1c" stroke-width="2.7" />
<line x1="270.20" y1="1156.68" x2="279.20" y2="1156.68" stroke="#1c1c1c" stroke-width="2.7" />
<line x1="1734.20" y1="1156.68" x2="1725.20" y2="1156.68" stroke="#1c1c1c" stroke-width="2.7" />
<line x1="270.20" y1="1145.79" x2="279.20" y2="1145.79" stroke="#1c1c1c" stroke-width="2.7" />
<line x1="1734.20" y1="1145.79" x2="1725.20" y2="1145.79" stroke="#1c1c1c" stroke-width="2.7" />
<line x1="270.20" y1="1136.59" x2="279.20" y2="1136.59" stroke="#1c1c1c" stroke-width="2.7" />
<line x1="1734.20" y1="1136.59" x2="1725.20" y2="1136.59" stroke="#1c1c1c" stroke-width="2.7" />
<line x1="270.20" y1="1128.62" x2="279.20" y2="1128.62" stroke="#1c1c1c" stroke-width="2.7" />
<line x1="1734.20" y1="1128.62" x2="1725.20" y2="1128.62" stroke="#1c1c1c" stroke-width="2.7" />
<line x1="270.20" y1="1121.59" x2="279.20" y2="1121.59" stroke="#1c1c1c" stroke-width="2.7" />
<line x1="1734.20" y1="1121.59" x2="1725.20" y2="1121.59" stroke="#1c1c1c" stroke-width="2.7" />
<line x1="270.20" y1="1073.92" x2="279.20" y2="1073.92" stroke="#1c1c1c" stroke-width="2.7" />
<line x1="1734.20" y1="1073.92" x2="1725.20" y2="1073.92" stroke="#1c1c1c" stroke-width="2.7" />
<line x1="270.20" y1="1049.72" x2="279.20" y2="1049.72" stroke="#1c1c1c" stroke-width="2.7" />
<line x1="1734.20" y1="1049.72" x2="1725.20" y2="1049.72" stroke="#1c1c1c" stroke-width="2.7" />
<line x1="270.20" y1="1032.55" x2="279.20" y2="1032.55" stroke="#1c1c1c" stroke-width="2.7" />
<line x1="1734.20" y1="1032.55" x2="1725.20" y2="1032.55" stroke="#1c1c1c" stroke-width="2.7" />
<clipPath id="cpc"><rect x="268.2" y="1019.4" width="1468.0" height="885.0000000000001"/></clipPath>
<g clip-path="url(#cpc)" fill="none" stroke-linejoin="round">
<polyline points="270.0,1205.8 320.5,1331.0 370.9,1442.1 421.4,1856.9 471.8,1888.9 522.3,1892.7 572.8,1894.2 623.2,1895.0 673.7,1895.9 724.1,1896.3 774.6,1896.8 825.1,1897.0 875.5,1897.2 926.0,1897.5 976.4,1897.7 1026.9,1898.6 1077.4,1898.6 1127.8,1898.7 1178.3,1898.7 1228.7,1898.8 1279.2,1898.8 1329.7,1898.9 1380.1,1898.9 1430.6,1898.9 1481.0,1899.0 1531.5,1899.0 1582.0,1899.1 1632.4,1899.1 1682.9,1899.2 1733.3,1899.2" stroke="#ff0000" stroke-width="4.2"/>
<polyline points="471.8,1888.9 522.3,1892.7 572.8,1894.2 623.2,1895.0 673.7,1895.9 724.1,1896.3 774.6,1896.8 825.1,1897.0 875.5,1897.2 926.0,1897.5 976.4,1897.7 1026.9,1898.6 1077.4,1898.6 1127.8,1898.7 1178.3,1898.7 1228.7,1898.8 1279.2,1898.8 1329.7,1898.9 1380.1,1898.9 1430.6,1898.9 1481.0,1899.0 1531.5,1899.0 1582.0,1899.1 1632.4,1899.1 1682.9,1899.2 1733.3,1899.2" stroke="#ff0000" stroke-width="5.2"/>
<polyline points="270.0,1028.0 320.5,1222.1 370.9,1612.0 421.4,1774.5 471.8,1816.7 522.3,1817.0 572.8,1817.0 623.2,1817.3 673.7,1819.0 724.1,1822.0 774.6,1824.0 825.1,1825.0 875.5,1825.5 926.0,1826.0 976.4,1826.3 1026.9,1827.2 1077.4,1827.3 1127.8,1827.4 1178.3,1827.4 1228.7,1827.5 1279.2,1827.6 1329.7,1827.7 1380.1,1827.8 1430.6,1827.9 1481.0,1827.9 1531.5,1828.0 1582.0,1828.1 1632.4,1829.6 1682.9,1832.5 1733.3,1833.9" stroke="#00ff00" stroke-width="3.8"/>
<polyline points="724.1,1822.0 774.6,1824.0 825.1,1825.0 875.5,1825.5 926.0,1826.0 976.4,1826.3 1026.9,1827.2 1077.4,1827.3 1127.8,1827.4 1178.3,1827.4 1228.7,1827.5 1279.2,1827.6 1329.7,1827.7 1380.1,1827.8 1430.6,1827.9 1481.0,1827.9 1531.5,1828.0 1582.0,1828.1 1632.4,1829.6 1682.9,1832.5 1733.3,1833.9" stroke="#00ff00" stroke-width="5.3999999999999995"/>
<polyline points="270.0,1086.5 320.5,1311.0 370.9,1614.4 421.4,1774.5 471.8,1782.7 522.3,1797.2 572.8,1817.6 623.2,1832.7 673.7,1833.6 724.1,1834.0 774.6,1834.5 825.1,1834.9 875.5,1835.4 926.0,1835.8 976.4,1836.3 1026.9,1836.3 1077.4,1836.3 1127.8,1836.3 1178.3,1836.3 1228.7,1836.3 1279.2,1836.3 1329.7,1836.3 1380.1,1836.3 1430.6,1836.3 1481.0,1836.3 1531.5,1836.3 1582.0,1836.3 1632.4,1836.3 1682.9,1836.3 1733.3,1836.3" stroke="#0000ff" stroke-width="4.2"/>
<polyline points="673.7,1833.6 724.1,1834.0 774.6,1834.5 825.1,1834.9 875.5,1835.4 926.0,1835.8 976.4,1836.3 1026.9,1836.3 1077.4,1836.3 1127.8,1836.3 1178.3,1836.3 1228.7,1836.3 1279.2,1836.3 1329.7,1836.3 1380.1,1836.3 1430.6,1836.3 1481.0,1836.3 1531.5,1836.3 1582.0,1836.3 1632.4,1836.3 1682.9,1836.3 1733.3,1836.3" stroke="#0000ff" stroke-width="5.0"/>
<polyline points="270.0,1129.8 320.5,1205.3 370.9,1216.3 421.4,1217.9 471.8,1232.6 522.3,1258.4 572.8,1296.9 623.2,1301.5 673.7,1301.5 724.1,1301.5 774.6,1301.5 825.1,1301.5 875.5,1301.5 926.0,1301.5 976.4,1313.1 1026.9,1328.4 1077.4,1358.1 1127.8,1371.2 1178.3,1381.2 1228.7,1383.9 1279.2,1394.5 1329.7,1410.5 1380.1,1428.0 1430.6,1430.1 1481.0,1430.1 1531.5,1430.1 1582.0,1435.3 1632.4,1448.4 1682.9,1476.7 1733.3,1476.7" stroke="#00ffff" stroke-width="4.2"/>
<polyline points="623.2,1301.5 673.7,1301.5 724.1,1301.5 774.6,1301.5 825.1,1301.5 875.5,1301.5 926.0,1301.5" stroke="#00ffff" stroke-width="5.3999999999999995"/>
<polyline points="270.0,1088.8 320.5,1316.0 370.9,1503.8 421.4,1595.5 471.8,1677.8 522.3,1682.5 572.8,1683.7 623.2,1687.0 673.7,1692.7 724.1,1705.8 774.6,1720.0 825.1,1738.4 875.5,1749.2 926.0,1756.5 976.4,1762.3 1026.9,1766.5 1077.4,1766.5 1127.8,1771.4 1178.3,1793.4 1228.7,1822.3 1279.2,1849.9 1329.7,1852.9 1380.1,1861.6 1430.6,1870.3 1481.0,1874.1 1531.5,1875.3 1582.0,1875.3 1632.4,1875.3 1682.9,1875.3 1733.3,1875.3" stroke="#ff00ff" stroke-width="4.0"/>
<polyline points="270.0,1021.5 320.5,1114.6 370.9,1241.5 421.4,1242.0 471.8,1244.3 522.3,1263.0 572.8,1295.8 623.2,1371.3 673.7,1423.7 724.1,1500.9 774.6,1559.1 825.1,1604.2 875.5,1626.7 926.0,1629.9 976.4,1630.2 1026.9,1630.2 1077.4,1630.2 1127.8,1630.3 1178.3,1630.3 1228.7,1630.3 1279.2,1630.4 1329.7,1630.4 1380.1,1630.4 1430.6,1638.5 1481.0,1666.8 1531.5,1723.4 1582.0,1809.2 1632.4,1849.9 1682.9,1855.8 1733.3,1857.8" stroke="#000000" stroke-width="4.0"/>
<polyline points="270.0,1154.3 320.5,1263.0 370.9,1288.8 421.4,1291.8 471.8,1295.8 522.3,1300.0 572.8,1303.5 623.2,1307.3 673.7,1311.0 724.1,1316.0 774.6,1320.4 825.1,1324.2 875.5,1328.2 926.0,1332.9 976.4,1337.8 1026.9,1342.1 1077.4,1347.9 1127.8,1353.2 1178.3,1358.1 1228.7,1363.9 1279.2,1371.2 1329.7,1378.2 1380.1,1385.0 1430.6,1393.0 1481.0,1401.8 1531.5,1411.4 1582.0,1420.5 1632.4,1431.0 1682.9,1443.5 1733.3,1457.2" stroke="#8c0c28" stroke-width="4.4"/>
<polyline points="370.9,1288.8 421.4,1291.8 471.8,1295.8 522.3,1300.0 572.8,1303.5 623.2,1307.3 673.7,1311.0 724.1,1316.0 774.6,1320.4 825.1,1324.2 875.5,1328.2 926.0,1332.9 976.4,1337.8 1026.9,1342.1 1077.4,1347.9 1127.8,1353.2 1178.3,1358.1 1228.7,1363.9 1279.2,1371.2 1329.7,1378.2 1380.1,1385.0 1430.6,1393.0 1481.0,1401.8 1531.5,1411.4 1582.0,1420.5 1632.4,1431.0 1682.9,1443.5 1733.3,1457.2" stroke="#8c0c28" stroke-width="4.8"/>
</g>
<rect x="1472.2" y="1092.3" width="233.5" height="301.29999999999995" fill="#d8d8d8"/>
<rect x="1470.2" y="1090.3" width="233.5" height="301.29999999999995" fill="#ffffff" stroke="#9a9a9a" stroke-width="2.0"/>
<line x1="1481.90" y1="1116.50" x2="1590.20" y2="1116.50" stroke="#ff0000" stroke-width="5.2" />
<text transform="matrix(0.16519 0 0 0.15915 1597.16 1128.48)" font-family="Liberation Sans" font-size="200" fill="#000000" stroke="#000000" stroke-width="3.33">MSPO</text>
<line x1="1481.90" y1="1158.00" x2="1590.20" y2="1158.00" stroke="#00ff00" stroke-width="3.4000000000000004" />
<text transform="matrix(0.16519 0 0 0.15915 1597.16 1169.98)" font-family="Liberation Sans" font-size="200" fill="#000000" stroke="#000000" stroke-width="3.33">PO</text>
<line x1="1481.90" y1="1199.50" x2="1590.20" y2="1199.50" stroke="#0000ff" stroke-width="3.4000000000000004" />
<text transform="matrix(0.16519 0 0 0.15915 1599.63 1211.48)" font-family="Liberation Sans" font-size="200" fill="#000000" stroke="#000000" stroke-width="3.33">WOA</text>
<line x1="1481.90" y1="1241.00" x2="1590.20" y2="1241.00" stroke="#00ffff" stroke-width="5.2" />
<text transform="matrix(0.16519 0 0 0.15915 1598.31 1252.98)" font-family="Liberation Sans" font-size="200" fill="#000000" stroke="#000000" stroke-width="3.33">SCA</text>
<line x1="1481.90" y1="1282.50" x2="1590.20" y2="1282.50" stroke="#ff00ff" stroke-width="3.2" />
<text transform="matrix(0.16519 0 0 0.15915 1597.16 1294.48)" font-family="Liberation Sans" font-size="200" fill="#000000" stroke="#000000" stroke-width="3.33">HHO</text>
<line x1="1481.90" y1="1324.00" x2="1590.20" y2="1324.00" stroke="#2a2a2a" stroke-width="3.8" />
<text transform="matrix(0.16519 0 0 0.15915 1598.15 1335.98)" font-family="Liberation Sans" font-size="200" fill="#000000" stroke="#000000" stroke-width="3.33">GA</text>
<line x1="1481.90" y1="1365.50" x2="1590.20" y2="1365.50" stroke="#8c0f28" stroke-width="5.2" />
<text transform="matrix(0.16519 0 0 0.15915 1597.16 1377.80)" font-family="Liberation Sans" font-size="200" fill="#000000" stroke="#000000" stroke-width="3.33">BA</text>
<text transform="matrix(0.18239 0 0 0.18169 384.50 1951.44)" font-family="Liberation Sans" font-size="200" fill="#262626">100</text>
<text transform="matrix(0.18239 0 0 0.18169 531.36 1951.44)" font-family="Liberation Sans" font-size="200" fill="#262626">200</text>
<text transform="matrix(0.18239 0 0 0.18169 677.94 1951.44)" font-family="Liberation Sans" font-size="200" fill="#262626">300</text>
<text transform="matrix(0.18239 0 0 0.18169 824.71 1951.44)" font-family="Liberation Sans" font-size="200" fill="#262626">400</text>
<text transform="matrix(0.18239 0 0 0.18169 970.74 1951.44)" font-family="Liberation Sans" font-size="200" fill="#262626">500</text>
<text transform="matrix(0.18239 0 0 0.18169 1116.96 1951.44)" font-family="Liberation Sans" font-size="200" fill="#262626">600</text>
<text transform="matrix(0.18239 0 0 0.18169 1263.36 1951.44)" font-family="Liberation Sans" font-size="200" fill="#262626">700</text>
<text transform="matrix(0.18239 0 0 0.18169 1409.85 1951.44)" font-family="Liberation Sans" font-size="200" fill="#262626">800</text>
<text transform="matrix(0.18239 0 0 0.18169 1556.25 1951.44)" font-family="Liberation Sans" font-size="200" fill="#262626">900</text>
<text transform="matrix(0.18239 0 0 0.18169 1691.89 1951.44)" font-family="Liberation Sans" font-size="200" fill="#262626">1000</text>
<text transform="matrix(0.20029 0 0 0.20476 929.29 2004.39)" font-family="Liberation Sans" font-size="200" fill="#262626">Iteration</text>
<text transform="matrix(0 -0.19957 0.20816 0 179.68 1578.09)" font-family="Liberation Sans" font-size="200" fill="#262626">Fitness value</text>
<text transform="matrix(0.17900 0 0 0.18732 199.72 1135.43)" font-family="Liberation Sans" font-size="200" fill="#262626">10</text>
<text transform="matrix(0.15789 0 0 0.15000 239.38 1117.60)" font-family="Liberation Sans" font-size="200" fill="#262626">9</text>
<text transform="matrix(0.17900 0 0 0.18732 199.72 1272.88)" font-family="Liberation Sans" font-size="200" fill="#262626">10</text>
<text transform="matrix(0.15789 0 0 0.15000 239.38 1255.05)" font-family="Liberation Sans" font-size="200" fill="#262626">8</text>
<text transform="matrix(0.17900 0 0 0.18732 199.72 1410.33)" font-family="Liberation Sans" font-size="200" fill="#262626">10</text>
<text transform="matrix(0.15789 0 0 0.15000 239.22 1392.80)" font-family="Liberation Sans" font-size="200" fill="#262626">7</text>
<text transform="matrix(0.17900 0 0 0.18732 199.72 1547.78)" font-family="Liberation Sans" font-size="200" fill="#262626">10</text>
<text transform="matrix(0.15789 0 0 0.15000 239.22 1529.95)" font-family="Liberation Sans" font-size="200" fill="#262626">6</text>
<text transform="matrix(0.17900 0 0 0.18732 199.72 1685.23)" font-family="Liberation Sans" font-size="200" fill="#262626">10</text>
<text transform="matrix(0.15789 0 0 0.15000 239.54 1667.40)" font-family="Liberation Sans" font-size="200" fill="#262626">5</text>
<text transform="matrix(0.17900 0 0 0.18732 199.72 1822.68)" font-family="Liberation Sans" font-size="200" fill="#262626">10</text>
<text transform="matrix(0.15789 0 0 0.15000 240.17 1805.15)" font-family="Liberation Sans" font-size="200" fill="#262626">4</text>
</g>
<g>
<line x1="2220.40" y1="1030.80" x2="2220.40" y2="1921.30" stroke="#e6e6e6" stroke-width="3.2" />
<line x1="2368.90" y1="1030.80" x2="2368.90" y2="1921.30" stroke="#e6e6e6" stroke-width="3.2" />
<line x1="2517.40" y1="1030.80" x2="2517.40" y2="1921.30" stroke="#e6e6e6" stroke-width="3.2" />
<line x1="2665.90" y1="1030.80" x2="2665.90" y2="1921.30" stroke="#e6e6e6" stroke-width="3.2" />
<line x1="2814.40" y1="1030.80" x2="2814.40" y2="1921.30" stroke="#e6e6e6" stroke-width="3.2" />
<line x1="2962.90" y1="1030.80" x2="2962.90" y2="1921.30" stroke="#e6e6e6" stroke-width="3.2" />
<line x1="3111.40" y1="1030.80" x2="3111.40" y2="1921.30" stroke="#e6e6e6" stroke-width="3.2" />
<line x1="3259.90" y1="1030.80" x2="3259.90" y2="1921.30" stroke="#e6e6e6" stroke-width="3.2" />
<line x1="3408.40" y1="1030.80" x2="3408.40" y2="1921.30" stroke="#e6e6e6" stroke-width="3.2" />
<line x1="2074.50" y1="1063.30" x2="3556.00" y2="1063.30" stroke="#e9e9e9" stroke-width="4.8" />
<line x1="2074.50" y1="1172.70" x2="3556.00" y2="1172.70" stroke="#e9e9e9" stroke-width="4.8" />
<line x1="2074.50" y1="1293.64" x2="3556.00" y2="1293.64" stroke="#e9e9e9" stroke-width="4.8" />
<line x1="2074.50" y1="1428.83" x2="3556.00" y2="1428.83" stroke="#f7f7f7" stroke-width="4.8" />
<line x1="2074.50" y1="1582.11" x2="3556.00" y2="1582.11" stroke="#e9e9e9" stroke-width="4.8" />
<line x1="2074.50" y1="1759.05" x2="3556.00" y2="1759.05" stroke="#e9e9e9" stroke-width="4.8" />
<line x1="2088.50" y1="1879.98" x2="3556.00" y2="1879.98" stroke="#c2c2c2" stroke-width="2.8" stroke-dasharray="4.4 5.1" opacity="0.38"/>
<line x1="2088.50" y1="1838.24" x2="3556.00" y2="1838.24" stroke="#c2c2c2" stroke-width="2.8" stroke-dasharray="4.4 5.1" opacity="1.0"/>
<line x1="2088.50" y1="1797.96" x2="3556.00" y2="1797.96" stroke="#c2c2c2" stroke-width="2.8" stroke-dasharray="4.4 5.1" opacity="1.0"/>
<line x1="2088.50" y1="1721.41" x2="3556.00" y2="1721.41" stroke="#c2c2c2" stroke-width="2.8" stroke-dasharray="4.4 5.1" opacity="1.0"/>
<line x1="2088.50" y1="1684.97" x2="3556.00" y2="1684.97" stroke="#c2c2c2" stroke-width="2.8" stroke-dasharray="4.4 5.1" opacity="0.38"/>
<line x1="2088.50" y1="1649.65" x2="3556.00" y2="1649.65" stroke="#c2c2c2" stroke-width="2.8" stroke-dasharray="4.4 5.1" opacity="1.0"/>
<line x1="2088.50" y1="1615.38" x2="3556.00" y2="1615.38" stroke="#c2c2c2" stroke-width="2.8" stroke-dasharray="4.4 5.1" opacity="1.0"/>
<line x1="2088.50" y1="1549.77" x2="3556.00" y2="1549.77" stroke="#c2c2c2" stroke-width="2.8" stroke-dasharray="4.4 5.1" opacity="1.0"/>
<line x1="2088.50" y1="1518.32" x2="3556.00" y2="1518.32" stroke="#c2c2c2" stroke-width="2.8" stroke-dasharray="4.4 5.1" opacity="1.0"/>
<line x1="2088.50" y1="1487.71" x2="3556.00" y2="1487.71" stroke="#c2c2c2" stroke-width="2.8" stroke-dasharray="4.4 5.1" opacity="1.0"/>
<line x1="2088.50" y1="1457.89" x2="3556.00" y2="1457.89" stroke="#c2c2c2" stroke-width="2.8" stroke-dasharray="4.4 5.1" opacity="1.0"/>
<line x1="2088.50" y1="1400.49" x2="3556.00" y2="1400.49" stroke="#c2c2c2" stroke-width="2.8" stroke-dasharray="4.4 5.1" opacity="1.0"/>
<line x1="2088.50" y1="1372.83" x2="3556.00" y2="1372.83" stroke="#c2c2c2" stroke-width="2.8" stroke-dasharray="4.4 5.1" opacity="1.0"/>
<line x1="2088.50" y1="1345.82" x2="3556.00" y2="1345.82" stroke="#c2c2c2" stroke-width="2.8" stroke-dasharray="4.4 5.1" opacity="1.0"/>
<line x1="2088.50" y1="1319.43" x2="3556.00" y2="1319.43" stroke="#c2c2c2" stroke-width="2.8" stroke-dasharray="4.4 5.1" opacity="1.0"/>
<line x1="2088.50" y1="1268.41" x2="3556.00" y2="1268.41" stroke="#c2c2c2" stroke-width="2.8" stroke-dasharray="4.4 5.1" opacity="1.0"/>
<line x1="2088.50" y1="1243.72" x2="3556.00" y2="1243.72" stroke="#c2c2c2" stroke-width="2.8" stroke-dasharray="4.4 5.1" opacity="0.38"/>
<line x1="2088.50" y1="1219.56" x2="3556.00" y2="1219.56" stroke="#c2c2c2" stroke-width="2.8" stroke-dasharray="4.4 5.1" opacity="1.0"/>
<line x1="2088.50" y1="1195.89" x2="3556.00" y2="1195.89" stroke="#c2c2c2" stroke-width="2.8" stroke-dasharray="4.4 5.1" opacity="0.38"/>
<line x1="2088.50" y1="1149.97" x2="3556.00" y2="1149.97" stroke="#c2c2c2" stroke-width="2.8" stroke-dasharray="4.4 5.1" opacity="0.38"/>
<line x1="2088.50" y1="1127.68" x2="3556.00" y2="1127.68" stroke="#c2c2c2" stroke-width="2.8" stroke-dasharray="4.4 5.1" opacity="1.0"/>
<line x1="2088.50" y1="1105.82" x2="3556.00" y2="1105.82" stroke="#c2c2c2" stroke-width="2.8" stroke-dasharray="4.4 5.1" opacity="1.0"/>
<line x1="2088.50" y1="1084.36" x2="3556.00" y2="1084.36" stroke="#c2c2c2" stroke-width="2.8" stroke-dasharray="4.4 5.1" opacity="0.38"/>
<line x1="2088.50" y1="1042.62" x2="3556.00" y2="1042.62" stroke="#c2c2c2" stroke-width="2.8" stroke-dasharray="4.4 5.1" opacity="1.0"/>
<line x1="2073.30" y1="1030.80" x2="3557.20" y2="1030.80" stroke="#8e8e8e" stroke-width="3.2" />
<line x1="3556.00" y1="1030.80" x2="3556.00" y2="1921.30" stroke="#b4b4b4" stroke-width="3.2" />
<line x1="2073.30" y1="1921.30" x2="3557.20" y2="1921.30" stroke="#303030" stroke-width="3.2" />
<line x1="2074.50" y1="1030.80" x2="2074.50" y2="1921.30" stroke="#909090" stroke-width="3.2" />
<line x1="2220.40" y1="1921.30" x2="2220.40" y2="1906.80" stroke="#1c1c1c" stroke-width="2.9" />
<line x1="2220.40" y1="1030.80" x2="2220.40" y2="1045.30" stroke="#1c1c1c" stroke-width="2.9" />
<line x1="2368.90" y1="1921.30" x2="2368.90" y2="1906.80" stroke="#1c1c1c" stroke-width="2.9" />
<line x1="2368.90" y1="1030.80" x2="2368.90" y2="1045.30" stroke="#1c1c1c" stroke-width="2.9" />
<line x1="2517.40" y1="1921.30" x2="2517.40" y2="1906.80" stroke="#1c1c1c" stroke-width="2.9" />
<line x1="2517.40" y1="1030.80" x2="2517.40" y2="1045.30" stroke="#1c1c1c" stroke-width="2.9" />
<line x1="2665.90" y1="1921.30" x2="2665.90" y2="1906.80" stroke="#1c1c1c" stroke-width="2.9" />
<line x1="2665.90" y1="1030.80" x2="2665.90" y2="1045.30" stroke="#1c1c1c" stroke-width="2.9" />
<line x1="2814.40" y1="1921.30" x2="2814.40" y2="1906.80" stroke="#1c1c1c" stroke-width="2.9" />
<line x1="2814.40" y1="1030.80" x2="2814.40" y2="1045.30" stroke="#1c1c1c" stroke-width="2.9" />
<line x1="2962.90" y1="1921.30" x2="2962.90" y2="1906.80" stroke="#1c1c1c" stroke-width="2.9" />
<line x1="2962.90" y1="1030.80" x2="2962.90" y2="1045.30" stroke="#1c1c1c" stroke-width="2.9" />
<line x1="3111.40" y1="1921.30" x2="3111.40" y2="1906.80" stroke="#1c1c1c" stroke-width="2.9" />
<line x1="3111.40" y1="1030.80" x2="3111.40" y2="1045.30" stroke="#1c1c1c" stroke-width="2.9" />
<line x1="3259.90" y1="1921.30" x2="3259.90" y2="1906.80" stroke="#1c1c1c" stroke-width="2.9" />
<line x1="3259.90" y1="1030.80" x2="3259.90" y2="1045.30" stroke="#1c1c1c" stroke-width="2.9" />
<line x1="3408.40" y1="1921.30" x2="3408.40" y2="1906.80" stroke="#1c1c1c" stroke-width="2.9" />
<line x1="3408.40" y1="1030.80" x2="3408.40" y2="1045.30" stroke="#1c1c1c" stroke-width="2.9" />
<line x1="2074.50" y1="1063.30" x2="2090.50" y2="1063.30" stroke="#1c1c1c" stroke-width="2.7" />
<line x1="3556.00" y1="1063.30" x2="3540.00" y2="1063.30" stroke="#1c1c1c" stroke-width="2.7" />
<line x1="2074.50" y1="1172.70" x2="2090.50" y2="1172.70" stroke="#1c1c1c" stroke-width="2.7" />
<line x1="3556.00" y1="1172.70" x2="3540.00" y2="1172.70" stroke="#1c1c1c" stroke-width="2.7" />
<line x1="2074.50" y1="1293.64" x2="2090.50" y2="1293.64" stroke="#1c1c1c" stroke-width="2.7" />
<line x1="3556.00" y1="1293.64" x2="3540.00" y2="1293.64" stroke="#1c1c1c" stroke-width="2.7" />
<line x1="2074.50" y1="1428.83" x2="2090.50" y2="1428.83" stroke="#1c1c1c" stroke-width="2.7" />
<line x1="3556.00" y1="1428.83" x2="3540.00" y2="1428.83" stroke="#1c1c1c" stroke-width="2.7" />
<line x1="2074.50" y1="1582.11" x2="2090.50" y2="1582.11" stroke="#1c1c1c" stroke-width="2.7" />
<line x1="3556.00" y1="1582.11" x2="3540.00" y2="1582.11" stroke="#1c1c1c" stroke-width="2.7" />
<line x1="2074.50" y1="1759.05" x2="2090.50" y2="1759.05" stroke="#1c1c1c" stroke-width="2.7" />
<line x1="3556.00" y1="1759.05" x2="3540.00" y2="1759.05" stroke="#1c1c1c" stroke-width="2.7" />
<line x1="2074.50" y1="1879.98" x2="2083.50" y2="1879.98" stroke="#1c1c1c" stroke-width="2.7" />
<line x1="3556.00" y1="1879.98" x2="3547.00" y2="1879.98" stroke="#1c1c1c" stroke-width="2.7" />
<line x1="2074.50" y1="1838.24" x2="2083.50" y2="1838.24" stroke="#1c1c1c" stroke-width="2.7" />
<line x1="3556.00" y1="1838.24" x2="3547.00" y2="1838.24" stroke="#1c1c1c" stroke-width="2.7" />
<line x1="2074.50" y1="1797.96" x2="2083.50" y2="1797.96" stroke="#1c1c1c" stroke-width="2.7" />
<line x1="3556.00" y1="1797.96" x2="3547.00" y2="1797.96" stroke="#1c1c1c" stroke-width="2.7" />
<line x1="2074.50" y1="1721.41" x2="2083.50" y2="1721.41" stroke="#1c1c1c" stroke-width="2.7" />
<line x1="3556.00" y1="1721.41" x2="3547.00" y2="1721.41" stroke="#1c1c1c" stroke-width="2.7" />
<line x1="2074.50" y1="1684.97" x2="2083.50" y2="1684.97" stroke="#1c1c1c" stroke-width="2.7" />
<line x1="3556.00" y1="1684.97" x2="3547.00" y2="1684.97" stroke="#1c1c1c" stroke-width="2.7" />
<line x1="2074.50" y1="1649.65" x2="2083.50" y2="1649.65" stroke="#1c1c1c" stroke-width="2.7" />
<line x1="3556.00" y1="1649.65" x2="3547.00" y2="1649.65" stroke="#1c1c1c" stroke-width="2.7" />
<line x1="2074.50" y1="1615.38" x2="2083.50" y2="1615.38" stroke="#1c1c1c" stroke-width="2.7" />
<line x1="3556.00" y1="1615.38" x2="3547.00" y2="1615.38" stroke="#1c1c1c" stroke-width="2.7" />
<line x1="2074.50" y1="1549.77" x2="2083.50" y2="1549.77" stroke="#1c1c1c" stroke-width="2.7" />
<line x1="3556.00" y1="1549.77" x2="3547.00" y2="1549.77" stroke="#1c1c1c" stroke-width="2.7" />
<line x1="2074.50" y1="1518.32" x2="2083.50" y2="1518.32" stroke="#1c1c1c" stroke-width="2.7" />
<line x1="3556.00" y1="1518.32" x2="3547.00" y2="1518.32" stroke="#1c1c1c" stroke-width="2.7" />
<line x1="2074.50" y1="1487.71" x2="2083.50" y2="1487.71" stroke="#1c1c1c" stroke-width="2.7" />
<line x1="3556.00" y1="1487.71" x2="3547.00" y2="1487.71" stroke="#1c1c1c" stroke-width="2.7" />
<line x1="2074.50" y1="1457.89" x2="2083.50" y2="1457.89" stroke="#1c1c1c" stroke-width="2.7" />
<line x1="3556.00" y1="1457.89" x2="3547.00" y2="1457.89" stroke="#1c1c1c" stroke-width="2.7" />
<line x1="2074.50" y1="1400.49" x2="2083.50" y2="1400.49" stroke="#1c1c1c" stroke-width="2.7" />
<line x1="3556.00" y1="1400.49" x2="3547.00" y2="1400.49" stroke="#1c1c1c" stroke-width="2.7" />
<line x1="2074.50" y1="1372.83" x2="2083.50" y2="1372.83" stroke="#1c1c1c" stroke-width="2.7" />
<line x1="3556.00" y1="1372.83" x2="3547.00" y2="1372.83" stroke="#1c1c1c" stroke-width="2.7" />
<line x1="2074.50" y1="1345.82" x2="2083.50" y2="1345.82" stroke="#1c1c1c" stroke-width="2.7" />
<line x1="3556.00" y1="1345.82" x2="3547.00" y2="1345.82" stroke="#1c1c1c" stroke-width="2.7" />
<line x1="2074.50" y1="1319.43" x2="2083.50" y2="1319.43" stroke="#1c1c1c" stroke-width="2.7" />
<line x1="3556.00" y1="1319.43" x2="3547.00" y2="1319.43" stroke="#1c1c1c" stroke-width="2.7" />
<line x1="2074.50" y1="1268.41" x2="2083.50" y2="1268.41" stroke="#1c1c1c" stroke-width="2.7" />
<line x1="3556.00" y1="1268.41" x2="3547.00" y2="1268.41" stroke="#1c1c1c" stroke-width="2.7" />
<line x1="2074.50" y1="1243.72" x2="2083.50" y2="1243.72" stroke="#1c1c1c" stroke-width="2.7" />
<line x1="3556.00" y1="1243.72" x2="3547.00" y2="1243.72" stroke="#1c1c1c" stroke-width="2.7" />
<line x1="2074.50" y1="1219.56" x2="2083.50" y2="1219.56" stroke="#1c1c1c" stroke-width="2.7" />
<line x1="3556.00" y1="1219.56" x2="3547.00" y2="1219.56" stroke="#1c1c1c" stroke-width="2.7" />
<line x1="2074.50" y1="1195.89" x2="2083.50" y2="1195.89" stroke="#1c1c1c" stroke-width="2.7" />
<line x1="3556.00" y1="1195.89" x2="3547.00" y2="1195.89" stroke="#1c1c1c" stroke-width="2.7" />
<line x1="2074.50" y1="1149.97" x2="2083.50" y2="1149.97" stroke="#1c1c1c" stroke-width="2.7" />
<line x1="3556.00" y1="1149.97" x2="3547.00" y2="1149.97" stroke="#1c1c1c" stroke-width="2.7" />
<line x1="2074.50" y1="1127.68" x2="2083.50" y2="1127.68" stroke="#1c1c1c" stroke-width="2.7" />
<line x1="3556.00" y1="1127.68" x2="3547.00" y2="1127.68" stroke="#1c1c1c" stroke-width="2.7" />
<line x1="2074.50" y1="1105.82" x2="2083.50" y2="1105.82" stroke="#1c1c1c" stroke-width="2.7" />
<line x1="3556.00" y1="1105.82" x2="3547.00" y2="1105.82" stroke="#1c1c1c" stroke-width="2.7" />
<line x1="2074.50" y1="1084.36" x2="2083.50" y2="1084.36" stroke="#1c1c1c" stroke-width="2.7" />
<line x1="3556.00" y1="1084.36" x2="3547.00" y2="1084.36" stroke="#1c1c1c" stroke-width="2.7" />
<line x1="2074.50" y1="1042.62" x2="2083.50" y2="1042.62" stroke="#1c1c1c" stroke-width="2.7" />
<line x1="3556.00" y1="1042.62" x2="3547.00" y2="1042.62" stroke="#1c1c1c" stroke-width="2.7" />
<clipPath id="cpd"><rect x="2072.5" y="1028.8" width="1485.5" height="895.5"/></clipPath>
<g clip-path="url(#cpd)" fill="none" stroke-linejoin="round">
<polyline points="2073.9,1222.5 2125.0,1734.9 2176.1,1859.5 2227.2,1882.0 2278.3,1896.5 2329.4,1907.3 2380.5,1910.2 2431.6,1912.5 2482.7,1914.9 2533.8,1916.3 2584.9,1917.8 2636.0,1918.4 2687.1,1918.6 2738.2,1918.8 2789.3,1919.0 2840.4,1919.0 2891.5,1919.1 2942.6,1919.1 2993.7,1919.2 3044.8,1919.2 3095.9,1919.2 3147.0,1919.3 3198.1,1919.3 3249.2,1919.4 3300.3,1919.4 3351.4,1919.4 3402.5,1919.5 3453.6,1919.5 3504.7,1919.6 3555.8,1919.6" stroke="#ff0000" stroke-width="3.8"/>
<polyline points="2482.7,1914.9 2533.8,1916.3 2584.9,1917.8 2636.0,1918.4 2687.1,1918.6 2738.2,1918.8 2789.3,1919.0 2840.4,1919.0 2891.5,1919.1 2942.6,1919.1 2993.7,1919.2 3044.8,1919.2 3095.9,1919.2 3147.0,1919.3 3198.1,1919.3 3249.2,1919.4 3300.3,1919.4 3351.4,1919.4 3402.5,1919.5 3453.6,1919.5 3504.7,1919.6 3555.8,1919.6" stroke="#ff0000" stroke-width="6.0"/>
<polyline points="2073.9,1222.5 2125.0,1734.9 2176.1,1859.5" stroke="#ff0000" stroke-width="4.6"/>
<polyline points="2073.9,1031.0 2125.0,1731.0 2176.1,1843.2 2227.2,1852.0 2278.3,1857.2 2329.4,1858.7 2380.5,1860.1 2431.6,1863.0 2482.7,1866.0 2533.8,1868.9 2584.9,1871.8 2636.0,1876.7 2687.1,1883.4 2738.2,1889.2 2789.3,1894.5 2840.4,1897.5 2891.5,1900.8 2942.6,1904.0 2993.7,1906.7 3044.8,1908.9 3095.9,1911.0 3147.0,1912.5 3198.1,1913.8 3249.2,1915.0 3300.3,1915.8 3351.4,1916.4 3402.5,1917.0 3453.6,1917.3 3504.7,1917.6 3555.8,1917.9" stroke="#00ff00" stroke-width="4.0"/>
<polyline points="3198.1,1913.8 3249.2,1915.0 3300.3,1915.8 3351.4,1916.4 3402.5,1917.0 3453.6,1917.3 3504.7,1917.6 3555.8,1917.9" stroke="#00ff00" stroke-width="5.3999999999999995"/>
<polyline points="2073.9,1031.0 2125.0,1731.0 2176.1,1843.2" stroke="#00ff00" stroke-width="5.3999999999999995"/>
<polyline points="2073.9,1107.0 2125.0,1730.0 2176.1,1842.7 2227.2,1854.3 2278.3,1857.2 2329.4,1857.6 2380.5,1857.6 2431.6,1857.6 2482.7,1857.6 2533.8,1857.6 2584.9,1857.6 2636.0,1857.6 2687.1,1857.6 2738.2,1857.6 2789.3,1857.6 2840.4,1857.6 2891.5,1857.6 2942.6,1857.6 2993.7,1857.6 3044.8,1857.6 3095.9,1857.6 3147.0,1857.6 3198.1,1857.6 3249.2,1857.6 3300.3,1857.6 3351.4,1857.6 3402.5,1857.6 3453.6,1857.6 3504.7,1857.6 3555.8,1857.6" stroke="#0000ff" stroke-width="2.5"/>
<polyline points="2073.9,1107.0 2125.0,1730.0 2176.1,1842.7" stroke="#0000ff" stroke-width="5.0"/>
<polyline points="2073.9,1213.0 2125.0,1669.3 2176.1,1820.0 2227.2,1844.1 2278.3,1858.7 2329.4,1867.4 2380.5,1871.8 2431.6,1874.7 2482.7,1874.7 2533.8,1874.7 2584.9,1874.7 2636.0,1874.7 2687.1,1874.7 2738.2,1875.6 2789.3,1876.5 2840.4,1877.5 2891.5,1879.3 2942.6,1881.0 2993.7,1882.3 3044.8,1883.5 3095.9,1884.6 3147.0,1886.0 3198.1,1887.4 3249.2,1887.9 3300.3,1887.9 3351.4,1887.9 3402.5,1887.9 3453.6,1887.9 3504.7,1887.9 3555.8,1887.9" stroke="#00ffff" stroke-width="3.8"/>
<polyline points="2073.9,1213.0 2125.0,1669.3 2176.1,1820.0" stroke="#00ffff" stroke-width="4.6"/>
<polyline points="2738.2,1875.6 2789.3,1876.5 2840.4,1877.5 2891.5,1879.3 2942.6,1881.0 2993.7,1882.3 3044.8,1883.5 3095.9,1884.6 3147.0,1886.0 3198.1,1887.4 3249.2,1887.9 3300.3,1887.9 3351.4,1887.9 3402.5,1887.9 3453.6,1887.9 3504.7,1887.9 3555.8,1887.9" stroke="#00ffff" stroke-width="4.6"/>
<polyline points="2073.9,1266.8 2125.0,1404.4 2176.1,1468.4 2227.2,1510.6 2278.3,1541.2 2329.4,1563.0 2380.5,1582.0 2431.6,1600.9 2482.7,1617.8 2533.8,1648.9 2584.9,1678.0 2636.0,1698.4 2687.1,1703.4 2738.2,1705.7 2789.3,1707.2 2840.4,1708.0 2891.5,1708.7 2942.6,1709.4 2993.7,1710.2 3044.8,1711.0 3095.9,1712.0 3147.0,1714.2 3198.1,1717.0 3249.2,1719.8 3300.3,1721.6 3351.4,1723.2 3402.5,1724.8 3453.6,1725.9 3504.7,1726.8 3555.8,1727.6" stroke="#ff00ff" stroke-width="4.0"/>
<polyline points="2636.0,1698.4 2687.1,1703.4 2738.2,1705.7 2789.3,1707.2 2840.4,1708.0 2891.5,1708.7 2942.6,1709.4 2993.7,1710.2 3044.8,1711.0 3095.9,1712.0 3147.0,1714.2 3198.1,1717.0 3249.2,1719.8 3300.3,1721.6 3351.4,1723.2 3402.5,1724.8 3453.6,1725.9 3504.7,1726.8 3555.8,1727.6" stroke="#ff00ff" stroke-width="4.6"/>
<polyline points="2073.9,1462.8 2125.0,1728.7 2176.1,1745.5 2227.2,1744.7 2278.3,1756.3 2329.4,1768.8 2380.5,1785.4 2431.6,1810.6 2482.7,1839.8 2533.8,1860.7 2584.9,1861.6 2636.0,1861.6 2687.1,1861.7 2738.2,1861.7 2789.3,1861.7 2840.4,1861.8 2891.5,1861.8 2942.6,1861.9 2993.7,1861.9 3044.8,1861.9 3095.9,1862.0 3147.0,1862.0 3198.1,1862.0 3249.2,1862.1 3300.3,1862.1 3351.4,1862.2 3402.5,1862.2 3453.6,1862.2 3504.7,1862.3 3555.8,1862.3" stroke="#000000" stroke-width="2.7"/>
<polyline points="2073.9,1462.8 2125.0,1728.7 2176.1,1745.5 2227.2,1744.7 2278.3,1756.3 2329.4,1768.8 2380.5,1785.4 2431.6,1810.6 2482.7,1839.8 2533.8,1860.7" stroke="#000000" stroke-width="4.8"/>
<polyline points="2073.9,1434.5 2125.0,1545.0 2176.1,1548.5 2227.2,1549.9 2278.3,1550.8 2329.4,1551.4 2380.5,1552.9 2431.6,1554.3 2482.7,1555.8 2533.8,1557.2 2584.9,1558.7 2636.0,1559.5 2687.1,1560.1 2738.2,1561.0 2789.3,1562.2 2840.4,1563.3 2891.5,1564.4 2942.6,1565.5 2993.7,1566.6 3044.8,1567.7 3095.9,1568.8 3147.0,1569.9 3198.1,1571.0 3249.2,1572.1 3300.3,1573.2 3351.4,1574.3 3402.5,1575.4 3453.6,1576.5 3504.7,1577.6 3555.8,1578.7" stroke="#8c0c28" stroke-width="4.2"/>
<polyline points="2176.1,1548.5 2227.2,1549.9 2278.3,1550.8 2329.4,1551.4 2380.5,1552.9 2431.6,1554.3 2482.7,1555.8 2533.8,1557.2 2584.9,1558.7 2636.0,1559.5 2687.1,1560.1 2738.2,1561.0 2789.3,1562.2 2840.4,1563.3 2891.5,1564.4 2942.6,1565.5 2993.7,1566.6 3044.8,1567.7 3095.9,1568.8 3147.0,1569.9 3198.1,1571.0 3249.2,1572.1 3300.3,1573.2 3351.4,1574.3 3402.5,1575.4 3453.6,1576.5 3504.7,1577.6 3555.8,1578.7" stroke="#8c0c28" stroke-width="5.0"/>
</g>
<rect x="3291.5" y="1103.7" width="236.30000000000018" height="302.5999999999999" fill="#d8d8d8"/>
<rect x="3289.5" y="1101.7" width="236.30000000000018" height="302.5999999999999" fill="#ffffff" stroke="#6a6a6a" stroke-width="2.4"/>
<line x1="3301.10" y1="1127.10" x2="3409.40" y2="1127.10" stroke="#ff2a2a" stroke-width="3.4000000000000004" />
<text transform="matrix(0.16696 0 0 0.15704 3417.43 1138.94)" font-family="Liberation Sans" font-size="200" fill="#000000" stroke="#000000" stroke-width="3.29">MSPO</text>
<line x1="3301.10" y1="1168.97" x2="3409.40" y2="1168.97" stroke="#00ff00" stroke-width="5.2" />
<text transform="matrix(0.16696 0 0 0.15704 3417.43 1180.81)" font-family="Liberation Sans" font-size="200" fill="#000000" stroke="#000000" stroke-width="3.29">PO</text>
<line x1="3301.10" y1="1210.84" x2="3409.40" y2="1210.84" stroke="#3030ff" stroke-width="3.8" />
<text transform="matrix(0.16696 0 0 0.15704 3419.93 1222.68)" font-family="Liberation Sans" font-size="200" fill="#000000" stroke="#000000" stroke-width="3.29">WOA</text>
<line x1="3301.10" y1="1252.71" x2="3409.40" y2="1252.71" stroke="#00ffff" stroke-width="5.2" />
<text transform="matrix(0.16696 0 0 0.15704 3418.60 1264.55)" font-family="Liberation Sans" font-size="200" fill="#000000" stroke="#000000" stroke-width="3.29">SCA</text>
<line x1="3301.10" y1="1294.58" x2="3409.40" y2="1294.58" stroke="#ff00ff" stroke-width="4.2" />
<text transform="matrix(0.16696 0 0 0.15704 3417.43 1306.42)" font-family="Liberation Sans" font-size="200" fill="#000000" stroke="#000000" stroke-width="3.29">HHO</text>
<line x1="3301.10" y1="1336.45" x2="3409.40" y2="1336.45" stroke="#3a3a3a" stroke-width="3.8" />
<text transform="matrix(0.16696 0 0 0.15704 3418.43 1348.29)" font-family="Liberation Sans" font-size="200" fill="#000000" stroke="#000000" stroke-width="3.29">GA</text>
<line x1="3301.10" y1="1378.32" x2="3409.40" y2="1378.32" stroke="#8c0f28" stroke-width="4.8" />
<text transform="matrix(0.16696 0 0 0.15704 3417.43 1390.47)" font-family="Liberation Sans" font-size="200" fill="#000000" stroke="#000000" stroke-width="3.29">BA</text>
<text transform="matrix(0.18553 0 0 0.19437 2188.77 1972.41)" font-family="Liberation Sans" font-size="200" fill="#262626">100</text>
<text transform="matrix(0.18553 0 0 0.19437 2337.73 1972.41)" font-family="Liberation Sans" font-size="200" fill="#262626">200</text>
<text transform="matrix(0.18553 0 0 0.19437 2486.42 1972.41)" font-family="Liberation Sans" font-size="200" fill="#262626">300</text>
<text transform="matrix(0.18553 0 0 0.19437 2635.29 1972.41)" font-family="Liberation Sans" font-size="200" fill="#262626">400</text>
<text transform="matrix(0.18553 0 0 0.19437 2783.42 1972.41)" font-family="Liberation Sans" font-size="200" fill="#262626">500</text>
<text transform="matrix(0.18553 0 0 0.19437 2931.73 1972.41)" font-family="Liberation Sans" font-size="200" fill="#262626">600</text>
<text transform="matrix(0.18553 0 0 0.19437 3080.23 1972.41)" font-family="Liberation Sans" font-size="200" fill="#262626">700</text>
<text transform="matrix(0.18553 0 0 0.19437 3228.82 1972.41)" font-family="Liberation Sans" font-size="200" fill="#262626">800</text>
<text transform="matrix(0.18553 0 0 0.19437 3377.32 1972.41)" font-family="Liberation Sans" font-size="200" fill="#262626">900</text>
<text transform="matrix(0.18553 0 0 0.19437 3514.88 1972.41)" font-family="Liberation Sans" font-size="200" fill="#262626">1000</text>
<text transform="matrix(0.19942 0 0 0.20136 2742.81 2025.50)" font-family="Liberation Sans" font-size="200" fill="#262626">Iteration</text>
<text transform="matrix(0 -0.20173 0.20000 0 1959.50 1594.33)" font-family="Liberation Sans" font-size="200" fill="#262626">Fitness value</text>
<text transform="matrix(0.18093 0 0 0.19718 1978.95 1079.70)" font-family="Liberation Sans" font-size="200" fill="#262626">5500</text>
<text transform="matrix(0.18093 0 0 0.19718 1978.95 1189.11)" font-family="Liberation Sans" font-size="200" fill="#262626">5000</text>
<text transform="matrix(0.18093 0 0 0.19718 1978.95 1310.04)" font-family="Liberation Sans" font-size="200" fill="#262626">4500</text>
<text transform="matrix(0.18093 0 0 0.19718 1978.95 1445.24)" font-family="Liberation Sans" font-size="200" fill="#262626">4000</text>
<text transform="matrix(0.18093 0 0 0.19718 1978.95 1598.51)" font-family="Liberation Sans" font-size="200" fill="#262626">3500</text>
<text transform="matrix(0.18093 0 0 0.19718 1978.95 1775.45)" font-family="Liberation Sans" font-size="200" fill="#262626">3000</text>
</g>
</svg>
<svg id="labels" xmlns="http://www.w3.org/2000/svg" width="3600" height="2032" viewBox="0 0 3600 2032">
<text transform="matrix(0.53407 0 0 0.53750 1.50 93.83)" font-family="Liberation Serif" font-size="200" font-weight="bold" fill="#000000">a</text>
<text transform="matrix(0.54455 0 0 0.53475 1793.81 94.13)" font-family="Liberation Serif" font-size="200" font-weight="bold" fill="#000000">b</text>
<text transform="matrix(0.55584 0 0 0.53646 5.91 1108.93)" font-family="Liberation Serif" font-size="200" font-weight="bold" fill="#000000">c</text>
<text transform="matrix(0.52574 0 0 0.53475 1794.59 1109.33)" font-family="Liberation Serif" font-size="200" font-weight="bold" fill="#000000">d</text>
</svg>
</body></html>
